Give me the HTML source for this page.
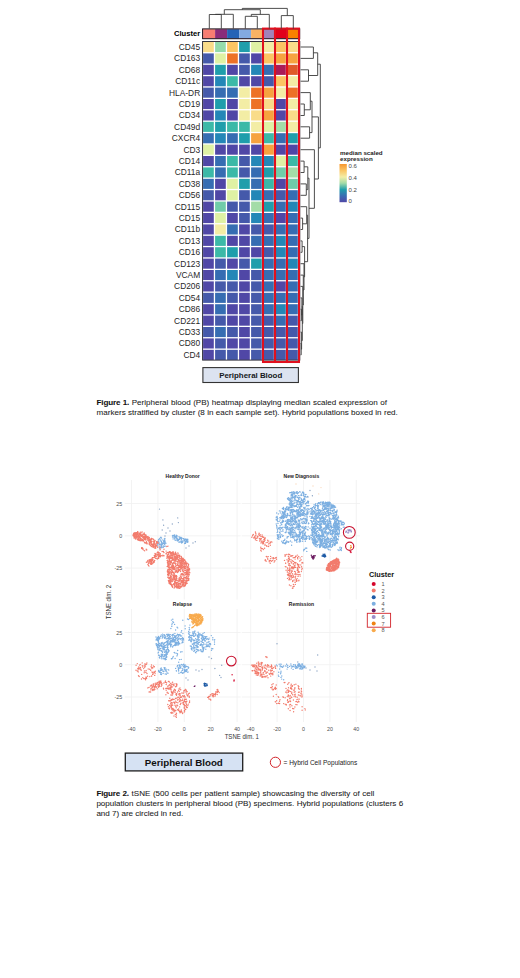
<!DOCTYPE html>
<html><head><meta charset="utf-8"><title>Figures</title><style>
html,body{margin:0;padding:0;background:#fff;width:520px;height:978px;overflow:hidden}
svg{position:absolute;left:0;top:0;display:block}
text{font-family:"Liberation Sans",sans-serif}
.rl{font-size:8.4px;fill:#282828}
.cl{font-size:7.6px;font-weight:bold;fill:#000}
.lt{font-size:6.2px;font-weight:bold;fill:#222}
.ll{font-size:6px;fill:#444}
.pb1{font-size:7.9px;font-weight:bold;fill:#141820}
.pb2{font-size:9.75px;font-weight:bold;fill:#111}
.cap{font-size:8.05px;fill:#222;stroke:#222;stroke-width:0.06px}
.capb{font-weight:bold;fill:#111;letter-spacing:-0.15px}
.ax{font-size:5.3px;fill:#4d4d4d}
.axt{font-size:6.6px;fill:#333}
.pt{font-size:5px;font-weight:bold;fill:#222}
.clt{font-size:7.3px;font-weight:bold;fill:#111}
.cln{font-size:5.6px;fill:#555}
.hyb{font-size:6.55px;fill:#222}
</style></head>
<body><svg width="520" height="978" viewBox="0 0 520 978">
<rect x="203.1" y="41.5" width="96.0" height="319.2" fill="#fff"/>
<rect x="203.1" y="42.0" width="10.7" height="10.1" fill="#f9dc89"/>
<rect x="215.1" y="42.0" width="10.7" height="10.1" fill="#93dbab"/>
<rect x="227.1" y="42.0" width="10.7" height="10.1" fill="#fbc563"/>
<rect x="239.1" y="42.0" width="10.7" height="10.1" fill="#1f9eab"/>
<rect x="251.1" y="42.0" width="10.7" height="10.1" fill="#dff1a4"/>
<rect x="263.1" y="42.0" width="10.7" height="10.1" fill="#f3eda5"/>
<rect x="275.1" y="42.0" width="10.7" height="10.1" fill="#fbc563"/>
<rect x="287.1" y="42.0" width="10.7" height="10.1" fill="#f9dc89"/>
<text x="200.2" y="50.0" text-anchor="end" class="rl">CD45</text>
<rect x="203.1" y="53.4" width="10.7" height="10.1" fill="#4559aa"/>
<rect x="215.1" y="53.4" width="10.7" height="10.1" fill="#dff1a4"/>
<rect x="227.1" y="53.4" width="10.7" height="10.1" fill="#ed7127"/>
<rect x="239.1" y="53.4" width="10.7" height="10.1" fill="#4559aa"/>
<rect x="251.1" y="53.4" width="10.7" height="10.1" fill="#5047a6"/>
<rect x="263.1" y="53.4" width="10.7" height="10.1" fill="#fbc563"/>
<rect x="275.1" y="53.4" width="10.7" height="10.1" fill="#f6a33f"/>
<rect x="287.1" y="53.4" width="10.7" height="10.1" fill="#f6a33f"/>
<text x="200.2" y="61.4" text-anchor="end" class="rl">CD163</text>
<rect x="203.1" y="64.8" width="10.7" height="10.1" fill="#5047a6"/>
<rect x="215.1" y="64.8" width="10.7" height="10.1" fill="#1f9eab"/>
<rect x="227.1" y="64.8" width="10.7" height="10.1" fill="#5047a6"/>
<rect x="239.1" y="64.8" width="10.7" height="10.1" fill="#4559aa"/>
<rect x="251.1" y="64.8" width="10.7" height="10.1" fill="#2487b7"/>
<rect x="263.1" y="64.8" width="10.7" height="10.1" fill="#366db2"/>
<rect x="275.1" y="64.8" width="10.7" height="10.1" fill="#a91b57"/>
<rect x="287.1" y="64.8" width="10.7" height="10.1" fill="#df5a2a"/>
<text x="200.2" y="72.8" text-anchor="end" class="rl">CD68</text>
<rect x="203.1" y="76.2" width="10.7" height="10.1" fill="#5047a6"/>
<rect x="215.1" y="76.2" width="10.7" height="10.1" fill="#2487b7"/>
<rect x="227.1" y="76.2" width="10.7" height="10.1" fill="#3cb9a7"/>
<rect x="239.1" y="76.2" width="10.7" height="10.1" fill="#5047a6"/>
<rect x="251.1" y="76.2" width="10.7" height="10.1" fill="#5047a6"/>
<rect x="263.1" y="76.2" width="10.7" height="10.1" fill="#4559aa"/>
<rect x="275.1" y="76.2" width="10.7" height="10.1" fill="#fbc563"/>
<rect x="287.1" y="76.2" width="10.7" height="10.1" fill="#f3eda5"/>
<text x="200.2" y="84.2" text-anchor="end" class="rl">CD11c</text>
<rect x="203.1" y="87.6" width="10.7" height="10.1" fill="#4559aa"/>
<rect x="215.1" y="87.6" width="10.7" height="10.1" fill="#366db2"/>
<rect x="227.1" y="87.6" width="10.7" height="10.1" fill="#366db2"/>
<rect x="239.1" y="87.6" width="10.7" height="10.1" fill="#f3eda5"/>
<rect x="251.1" y="87.6" width="10.7" height="10.1" fill="#ed7127"/>
<rect x="263.1" y="87.6" width="10.7" height="10.1" fill="#f6a33f"/>
<rect x="275.1" y="87.6" width="10.7" height="10.1" fill="#f3eda5"/>
<rect x="287.1" y="87.6" width="10.7" height="10.1" fill="#ed7127"/>
<text x="200.2" y="95.6" text-anchor="end" class="rl">HLA-DR</text>
<rect x="203.1" y="99.0" width="10.7" height="10.1" fill="#5047a6"/>
<rect x="215.1" y="99.0" width="10.7" height="10.1" fill="#1f9eab"/>
<rect x="227.1" y="99.0" width="10.7" height="10.1" fill="#5047a6"/>
<rect x="239.1" y="99.0" width="10.7" height="10.1" fill="#f3eda5"/>
<rect x="251.1" y="99.0" width="10.7" height="10.1" fill="#ed7127"/>
<rect x="263.1" y="99.0" width="10.7" height="10.1" fill="#f9dc89"/>
<rect x="275.1" y="99.0" width="10.7" height="10.1" fill="#5047a6"/>
<rect x="287.1" y="99.0" width="10.7" height="10.1" fill="#f3eda5"/>
<text x="200.2" y="107.0" text-anchor="end" class="rl">CD19</text>
<rect x="203.1" y="110.4" width="10.7" height="10.1" fill="#5047a6"/>
<rect x="215.1" y="110.4" width="10.7" height="10.1" fill="#2487b7"/>
<rect x="227.1" y="110.4" width="10.7" height="10.1" fill="#5047a6"/>
<rect x="239.1" y="110.4" width="10.7" height="10.1" fill="#f3eda5"/>
<rect x="251.1" y="110.4" width="10.7" height="10.1" fill="#f9dc89"/>
<rect x="263.1" y="110.4" width="10.7" height="10.1" fill="#f6a33f"/>
<rect x="275.1" y="110.4" width="10.7" height="10.1" fill="#5047a6"/>
<rect x="287.1" y="110.4" width="10.7" height="10.1" fill="#f9dc89"/>
<text x="200.2" y="118.4" text-anchor="end" class="rl">CD34</text>
<rect x="203.1" y="121.8" width="10.7" height="10.1" fill="#3cb9a7"/>
<rect x="215.1" y="121.8" width="10.7" height="10.1" fill="#1f9eab"/>
<rect x="227.1" y="121.8" width="10.7" height="10.1" fill="#3cb9a7"/>
<rect x="239.1" y="121.8" width="10.7" height="10.1" fill="#3cb9a7"/>
<rect x="251.1" y="121.8" width="10.7" height="10.1" fill="#f3eda5"/>
<rect x="263.1" y="121.8" width="10.7" height="10.1" fill="#dff1a4"/>
<rect x="275.1" y="121.8" width="10.7" height="10.1" fill="#a3dca8"/>
<rect x="287.1" y="121.8" width="10.7" height="10.1" fill="#f3eda5"/>
<text x="200.2" y="129.8" text-anchor="end" class="rl">CD49d</text>
<rect x="203.1" y="133.2" width="10.7" height="10.1" fill="#366db2"/>
<rect x="215.1" y="133.2" width="10.7" height="10.1" fill="#2487b7"/>
<rect x="227.1" y="133.2" width="10.7" height="10.1" fill="#366db2"/>
<rect x="239.1" y="133.2" width="10.7" height="10.1" fill="#1f9eab"/>
<rect x="251.1" y="133.2" width="10.7" height="10.1" fill="#f6a33f"/>
<rect x="263.1" y="133.2" width="10.7" height="10.1" fill="#3cb9a7"/>
<rect x="275.1" y="133.2" width="10.7" height="10.1" fill="#366db2"/>
<rect x="287.1" y="133.2" width="10.7" height="10.1" fill="#1f9eab"/>
<text x="200.2" y="141.2" text-anchor="end" class="rl">CXCR4</text>
<rect x="203.1" y="144.6" width="10.7" height="10.1" fill="#dff1a4"/>
<rect x="215.1" y="144.6" width="10.7" height="10.1" fill="#5047a6"/>
<rect x="227.1" y="144.6" width="10.7" height="10.1" fill="#5047a6"/>
<rect x="239.1" y="144.6" width="10.7" height="10.1" fill="#5047a6"/>
<rect x="251.1" y="144.6" width="10.7" height="10.1" fill="#5047a6"/>
<rect x="263.1" y="144.6" width="10.7" height="10.1" fill="#f6a33f"/>
<rect x="275.1" y="144.6" width="10.7" height="10.1" fill="#5047a6"/>
<rect x="287.1" y="144.6" width="10.7" height="10.1" fill="#5047a6"/>
<text x="200.2" y="152.6" text-anchor="end" class="rl">CD3</text>
<rect x="203.1" y="156.0" width="10.7" height="10.1" fill="#5047a6"/>
<rect x="215.1" y="156.0" width="10.7" height="10.1" fill="#366db2"/>
<rect x="227.1" y="156.0" width="10.7" height="10.1" fill="#3cb9a7"/>
<rect x="239.1" y="156.0" width="10.7" height="10.1" fill="#4559aa"/>
<rect x="251.1" y="156.0" width="10.7" height="10.1" fill="#2487b7"/>
<rect x="263.1" y="156.0" width="10.7" height="10.1" fill="#2487b7"/>
<rect x="275.1" y="156.0" width="10.7" height="10.1" fill="#dff1a4"/>
<rect x="287.1" y="156.0" width="10.7" height="10.1" fill="#3cb9a7"/>
<text x="200.2" y="164.0" text-anchor="end" class="rl">CD14</text>
<rect x="203.1" y="167.4" width="10.7" height="10.1" fill="#3cb9a7"/>
<rect x="215.1" y="167.4" width="10.7" height="10.1" fill="#366db2"/>
<rect x="227.1" y="167.4" width="10.7" height="10.1" fill="#3cb9a7"/>
<rect x="239.1" y="167.4" width="10.7" height="10.1" fill="#4559aa"/>
<rect x="251.1" y="167.4" width="10.7" height="10.1" fill="#366db2"/>
<rect x="263.1" y="167.4" width="10.7" height="10.1" fill="#1f9eab"/>
<rect x="275.1" y="167.4" width="10.7" height="10.1" fill="#70cca9"/>
<rect x="287.1" y="167.4" width="10.7" height="10.1" fill="#a3dca8"/>
<text x="200.2" y="175.4" text-anchor="end" class="rl">CD11a</text>
<rect x="203.1" y="178.8" width="10.7" height="10.1" fill="#366db2"/>
<rect x="215.1" y="178.8" width="10.7" height="10.1" fill="#5047a6"/>
<rect x="227.1" y="178.8" width="10.7" height="10.1" fill="#dff1a4"/>
<rect x="239.1" y="178.8" width="10.7" height="10.1" fill="#1f9eab"/>
<rect x="251.1" y="178.8" width="10.7" height="10.1" fill="#366db2"/>
<rect x="263.1" y="178.8" width="10.7" height="10.1" fill="#3cb9a7"/>
<rect x="275.1" y="178.8" width="10.7" height="10.1" fill="#5047a6"/>
<rect x="287.1" y="178.8" width="10.7" height="10.1" fill="#70cca9"/>
<text x="200.2" y="186.8" text-anchor="end" class="rl">CD38</text>
<rect x="203.1" y="190.2" width="10.7" height="10.1" fill="#4559aa"/>
<rect x="215.1" y="190.2" width="10.7" height="10.1" fill="#5047a6"/>
<rect x="227.1" y="190.2" width="10.7" height="10.1" fill="#dff1a4"/>
<rect x="239.1" y="190.2" width="10.7" height="10.1" fill="#4559aa"/>
<rect x="251.1" y="190.2" width="10.7" height="10.1" fill="#2487b7"/>
<rect x="263.1" y="190.2" width="10.7" height="10.1" fill="#366db2"/>
<rect x="275.1" y="190.2" width="10.7" height="10.1" fill="#4559aa"/>
<rect x="287.1" y="190.2" width="10.7" height="10.1" fill="#366db2"/>
<text x="200.2" y="198.2" text-anchor="end" class="rl">CD56</text>
<rect x="203.1" y="201.6" width="10.7" height="10.1" fill="#5047a6"/>
<rect x="215.1" y="201.6" width="10.7" height="10.1" fill="#70cca9"/>
<rect x="227.1" y="201.6" width="10.7" height="10.1" fill="#4559aa"/>
<rect x="239.1" y="201.6" width="10.7" height="10.1" fill="#4559aa"/>
<rect x="251.1" y="201.6" width="10.7" height="10.1" fill="#a3dca8"/>
<rect x="263.1" y="201.6" width="10.7" height="10.1" fill="#1f9eab"/>
<rect x="275.1" y="201.6" width="10.7" height="10.1" fill="#366db2"/>
<rect x="287.1" y="201.6" width="10.7" height="10.1" fill="#2487b7"/>
<text x="200.2" y="209.6" text-anchor="end" class="rl">CD115</text>
<rect x="203.1" y="213.0" width="10.7" height="10.1" fill="#5047a6"/>
<rect x="215.1" y="213.0" width="10.7" height="10.1" fill="#dff1a4"/>
<rect x="227.1" y="213.0" width="10.7" height="10.1" fill="#5047a6"/>
<rect x="239.1" y="213.0" width="10.7" height="10.1" fill="#4559aa"/>
<rect x="251.1" y="213.0" width="10.7" height="10.1" fill="#2487b7"/>
<rect x="263.1" y="213.0" width="10.7" height="10.1" fill="#366db2"/>
<rect x="275.1" y="213.0" width="10.7" height="10.1" fill="#5047a6"/>
<rect x="287.1" y="213.0" width="10.7" height="10.1" fill="#366db2"/>
<text x="200.2" y="221.0" text-anchor="end" class="rl">CD15</text>
<rect x="203.1" y="224.4" width="10.7" height="10.1" fill="#5047a6"/>
<rect x="215.1" y="224.4" width="10.7" height="10.1" fill="#f3eda5"/>
<rect x="227.1" y="224.4" width="10.7" height="10.1" fill="#366db2"/>
<rect x="239.1" y="224.4" width="10.7" height="10.1" fill="#5047a6"/>
<rect x="251.1" y="224.4" width="10.7" height="10.1" fill="#4559aa"/>
<rect x="263.1" y="224.4" width="10.7" height="10.1" fill="#4559aa"/>
<rect x="275.1" y="224.4" width="10.7" height="10.1" fill="#366db2"/>
<rect x="287.1" y="224.4" width="10.7" height="10.1" fill="#366db2"/>
<text x="200.2" y="232.4" text-anchor="end" class="rl">CD11b</text>
<rect x="203.1" y="235.8" width="10.7" height="10.1" fill="#5047a6"/>
<rect x="215.1" y="235.8" width="10.7" height="10.1" fill="#3cb9a7"/>
<rect x="227.1" y="235.8" width="10.7" height="10.1" fill="#5047a6"/>
<rect x="239.1" y="235.8" width="10.7" height="10.1" fill="#5047a6"/>
<rect x="251.1" y="235.8" width="10.7" height="10.1" fill="#366db2"/>
<rect x="263.1" y="235.8" width="10.7" height="10.1" fill="#366db2"/>
<rect x="275.1" y="235.8" width="10.7" height="10.1" fill="#2487b7"/>
<rect x="287.1" y="235.8" width="10.7" height="10.1" fill="#366db2"/>
<text x="200.2" y="243.8" text-anchor="end" class="rl">CD13</text>
<rect x="203.1" y="247.2" width="10.7" height="10.1" fill="#5047a6"/>
<rect x="215.1" y="247.2" width="10.7" height="10.1" fill="#3cb9a7"/>
<rect x="227.1" y="247.2" width="10.7" height="10.1" fill="#1f9eab"/>
<rect x="239.1" y="247.2" width="10.7" height="10.1" fill="#5047a6"/>
<rect x="251.1" y="247.2" width="10.7" height="10.1" fill="#5047a6"/>
<rect x="263.1" y="247.2" width="10.7" height="10.1" fill="#4559aa"/>
<rect x="275.1" y="247.2" width="10.7" height="10.1" fill="#2487b7"/>
<rect x="287.1" y="247.2" width="10.7" height="10.1" fill="#366db2"/>
<text x="200.2" y="255.2" text-anchor="end" class="rl">CD16</text>
<rect x="203.1" y="258.6" width="10.7" height="10.1" fill="#5047a6"/>
<rect x="215.1" y="258.6" width="10.7" height="10.1" fill="#4559aa"/>
<rect x="227.1" y="258.6" width="10.7" height="10.1" fill="#5047a6"/>
<rect x="239.1" y="258.6" width="10.7" height="10.1" fill="#4559aa"/>
<rect x="251.1" y="258.6" width="10.7" height="10.1" fill="#1f9eab"/>
<rect x="263.1" y="258.6" width="10.7" height="10.1" fill="#366db2"/>
<rect x="275.1" y="258.6" width="10.7" height="10.1" fill="#366db2"/>
<rect x="287.1" y="258.6" width="10.7" height="10.1" fill="#2487b7"/>
<text x="200.2" y="266.6" text-anchor="end" class="rl">CD123</text>
<rect x="203.1" y="270.0" width="10.7" height="10.1" fill="#5047a6"/>
<rect x="215.1" y="270.0" width="10.7" height="10.1" fill="#366db2"/>
<rect x="227.1" y="270.0" width="10.7" height="10.1" fill="#2487b7"/>
<rect x="239.1" y="270.0" width="10.7" height="10.1" fill="#5047a6"/>
<rect x="251.1" y="270.0" width="10.7" height="10.1" fill="#4559aa"/>
<rect x="263.1" y="270.0" width="10.7" height="10.1" fill="#366db2"/>
<rect x="275.1" y="270.0" width="10.7" height="10.1" fill="#366db2"/>
<rect x="287.1" y="270.0" width="10.7" height="10.1" fill="#366db2"/>
<text x="200.2" y="278.0" text-anchor="end" class="rl">VCAM</text>
<rect x="203.1" y="281.4" width="10.7" height="10.1" fill="#5047a6"/>
<rect x="215.1" y="281.4" width="10.7" height="10.1" fill="#4559aa"/>
<rect x="227.1" y="281.4" width="10.7" height="10.1" fill="#4559aa"/>
<rect x="239.1" y="281.4" width="10.7" height="10.1" fill="#5047a6"/>
<rect x="251.1" y="281.4" width="10.7" height="10.1" fill="#4559aa"/>
<rect x="263.1" y="281.4" width="10.7" height="10.1" fill="#366db2"/>
<rect x="275.1" y="281.4" width="10.7" height="10.1" fill="#5047a6"/>
<rect x="287.1" y="281.4" width="10.7" height="10.1" fill="#366db2"/>
<text x="200.2" y="289.4" text-anchor="end" class="rl">CD206</text>
<rect x="203.1" y="292.8" width="10.7" height="10.1" fill="#4559aa"/>
<rect x="215.1" y="292.8" width="10.7" height="10.1" fill="#366db2"/>
<rect x="227.1" y="292.8" width="10.7" height="10.1" fill="#4559aa"/>
<rect x="239.1" y="292.8" width="10.7" height="10.1" fill="#5047a6"/>
<rect x="251.1" y="292.8" width="10.7" height="10.1" fill="#4559aa"/>
<rect x="263.1" y="292.8" width="10.7" height="10.1" fill="#366db2"/>
<rect x="275.1" y="292.8" width="10.7" height="10.1" fill="#366db2"/>
<rect x="287.1" y="292.8" width="10.7" height="10.1" fill="#366db2"/>
<text x="200.2" y="300.8" text-anchor="end" class="rl">CD54</text>
<rect x="203.1" y="304.2" width="10.7" height="10.1" fill="#5047a6"/>
<rect x="215.1" y="304.2" width="10.7" height="10.1" fill="#366db2"/>
<rect x="227.1" y="304.2" width="10.7" height="10.1" fill="#5047a6"/>
<rect x="239.1" y="304.2" width="10.7" height="10.1" fill="#5047a6"/>
<rect x="251.1" y="304.2" width="10.7" height="10.1" fill="#4559aa"/>
<rect x="263.1" y="304.2" width="10.7" height="10.1" fill="#366db2"/>
<rect x="275.1" y="304.2" width="10.7" height="10.1" fill="#2487b7"/>
<rect x="287.1" y="304.2" width="10.7" height="10.1" fill="#366db2"/>
<text x="200.2" y="312.2" text-anchor="end" class="rl">CD86</text>
<rect x="203.1" y="315.6" width="10.7" height="10.1" fill="#5047a6"/>
<rect x="215.1" y="315.6" width="10.7" height="10.1" fill="#4559aa"/>
<rect x="227.1" y="315.6" width="10.7" height="10.1" fill="#5047a6"/>
<rect x="239.1" y="315.6" width="10.7" height="10.1" fill="#5047a6"/>
<rect x="251.1" y="315.6" width="10.7" height="10.1" fill="#4559aa"/>
<rect x="263.1" y="315.6" width="10.7" height="10.1" fill="#4559aa"/>
<rect x="275.1" y="315.6" width="10.7" height="10.1" fill="#366db2"/>
<rect x="287.1" y="315.6" width="10.7" height="10.1" fill="#4559aa"/>
<text x="200.2" y="323.6" text-anchor="end" class="rl">CD221</text>
<rect x="203.1" y="327.0" width="10.7" height="10.1" fill="#4559aa"/>
<rect x="215.1" y="327.0" width="10.7" height="10.1" fill="#366db2"/>
<rect x="227.1" y="327.0" width="10.7" height="10.1" fill="#4559aa"/>
<rect x="239.1" y="327.0" width="10.7" height="10.1" fill="#5047a6"/>
<rect x="251.1" y="327.0" width="10.7" height="10.1" fill="#4559aa"/>
<rect x="263.1" y="327.0" width="10.7" height="10.1" fill="#4559aa"/>
<rect x="275.1" y="327.0" width="10.7" height="10.1" fill="#4559aa"/>
<rect x="287.1" y="327.0" width="10.7" height="10.1" fill="#4559aa"/>
<text x="200.2" y="335.0" text-anchor="end" class="rl">CD33</text>
<rect x="203.1" y="338.4" width="10.7" height="10.1" fill="#5047a6"/>
<rect x="215.1" y="338.4" width="10.7" height="10.1" fill="#4559aa"/>
<rect x="227.1" y="338.4" width="10.7" height="10.1" fill="#5047a6"/>
<rect x="239.1" y="338.4" width="10.7" height="10.1" fill="#5047a6"/>
<rect x="251.1" y="338.4" width="10.7" height="10.1" fill="#4559aa"/>
<rect x="263.1" y="338.4" width="10.7" height="10.1" fill="#4559aa"/>
<rect x="275.1" y="338.4" width="10.7" height="10.1" fill="#4559aa"/>
<rect x="287.1" y="338.4" width="10.7" height="10.1" fill="#4559aa"/>
<text x="200.2" y="346.4" text-anchor="end" class="rl">CD80</text>
<rect x="203.1" y="349.8" width="10.7" height="10.1" fill="#5047a6"/>
<rect x="215.1" y="349.8" width="10.7" height="10.1" fill="#4559aa"/>
<rect x="227.1" y="349.8" width="10.7" height="10.1" fill="#4559aa"/>
<rect x="239.1" y="349.8" width="10.7" height="10.1" fill="#5047a6"/>
<rect x="251.1" y="349.8" width="10.7" height="10.1" fill="#4559aa"/>
<rect x="263.1" y="349.8" width="10.7" height="10.1" fill="#4559aa"/>
<rect x="275.1" y="349.8" width="10.7" height="10.1" fill="#4559aa"/>
<rect x="287.1" y="349.8" width="10.7" height="10.1" fill="#4559aa"/>
<text x="200.2" y="357.8" text-anchor="end" class="rl">CD4</text>
<rect x="202.6" y="41.5" width="97.2" height="318.6" fill="none" stroke="#1e1e2a" stroke-width="0.9"/>
<rect x="203.1" y="29.2" width="12.0" height="9.2" fill="#f77d72"/>
<rect x="215.1" y="29.2" width="12.0" height="9.2" fill="#8a2b7a"/>
<rect x="227.1" y="29.2" width="12.0" height="9.2" fill="#2563b6"/>
<rect x="239.1" y="29.2" width="12.0" height="9.2" fill="#83aae0"/>
<rect x="251.1" y="29.2" width="12.0" height="9.2" fill="#f9b263"/>
<rect x="263.1" y="29.2" width="12.0" height="9.2" fill="#a283b9"/>
<rect x="275.1" y="29.2" width="12.0" height="9.2" fill="#e2001b"/>
<rect x="287.1" y="29.2" width="12.0" height="9.2" fill="#f98200"/>
<rect x="202.6" y="28.9" width="97.1" height="9.8" fill="none" stroke="#1a0a14" stroke-width="1"/>
<text x="200.2" y="35.9" text-anchor="end" class="cl">Cluster</text>
<rect x="263.0" y="28.6" width="12.0" height="333.4" fill="none" stroke="#e0101e" stroke-width="2.05"/>
<rect x="275.0" y="28.6" width="12.0" height="333.4" fill="none" stroke="#e0101e" stroke-width="2.05"/>
<rect x="287.0" y="28.6" width="12.0" height="333.4" fill="none" stroke="#e0101e" stroke-width="2.05"/>
<path d="M209.3 28.6V14.5H221.3V28.6 M215.3 14.5V14.3H233.3V28.6 M245.3 28.6V16.3H257.3V28.6 M251.3 16.3V14.4H269.3V28.6 M224.3 14.3V9.7H260.3V14.4 M281.3 28.6V15.6H293.3V28.6 M242.3 9.7V8.4H287.3V15.6 M300.6 47.0H313.4V58.4H300.6 M300.6 69.8H308.5V81.2H300.6 M313.4 52.8H317.7V75.5H308.5 M300.6 104.0H304.3V115.5H300.6 M300.6 92.6H310.3V109.8H304.3 M300.6 126.8H309.6V138.2H300.6 M310.3 101.2H312.0V132.6H309.6 M300.6 161.1H304.1V172.5H300.6 M300.6 183.9H306.3V195.3H300.6 M304.1 166.8H307.8V189.6H306.3 M300.6 218.1H302.6V229.5H300.6 M300.6 206.7H306.7V223.8H302.6 M300.6 240.9H302.1V252.3H300.6 M300.6 343.5H301.2V354.9H300.6 M300.6 332.1H301.6V349.2H301.2 M300.6 309.2H301.4V320.7H300.6 M300.6 297.9H301.9V315.0H301.4 M301.9 306.4H302.3V340.6H301.6 M300.6 286.4H302.8V323.5H302.3 M300.6 275.1H303.3V305.0H302.8 M300.6 263.7H304.0V290.0H303.3 M302.1 246.6H304.6V276.8H304.0 M306.7 215.2H307.6V261.7H304.6 M307.8 178.2H309.0V238.4H307.6 M300.6 149.7H314.4V208.3H309.0 M312.0 116.9H318.4V179.0H314.4 M317.7 64.2H320.3V147.9H318.4" fill="none" stroke="#3a3a3a" stroke-width="0.9"/>
<defs><linearGradient id="lg" x1="0" y1="1" x2="0" y2="0"><stop offset="0" stop-color="#5047a6"/><stop offset="0.16" stop-color="#3a6bb2"/><stop offset="0.33" stop-color="#1f9eab"/><stop offset="0.5" stop-color="#a3dca8"/><stop offset="0.66" stop-color="#f3eda5"/><stop offset="0.83" stop-color="#fbc563"/><stop offset="1" stop-color="#f6962e"/></linearGradient></defs>
<rect x="339.5" y="164" width="7.3" height="38.2" fill="url(#lg)"/>
<text x="340" y="155.2" class="lt">median scaled</text>
<text x="340" y="161.0" class="lt">expression</text>
<text x="348.6" y="167.9" class="ll">0.6</text>
<text x="348.6" y="179.8" class="ll">0.4</text>
<text x="348.6" y="191.5" class="ll">0.2</text>
<text x="348.6" y="202.7" class="ll">0</text>
<rect x="202.9" y="367.6" width="95.5" height="14.9" fill="#dce3f0" stroke="#333" stroke-width="1.1"/>
<text x="250.7" y="378.4" text-anchor="middle" class="pb1">Peripheral Blood</text>
<text x="96.6" y="405.2" class="cap" word-spacing="0.33"><tspan class="capb">Figure 1.</tspan> Peripheral blood (PB) heatmap displaying median scaled expression of</text>
<text x="96.6" y="415.4" class="cap" word-spacing="0.12">markers stratified by cluster (8 in each sample set). Hybrid populations boxed in red.</text>
<path d="M131.5 480.0V599.5 M157.9 480.0V599.5 M184.3 480.0V599.5 M210.7 480.0V599.5 M237.1 480.0V599.5 M124.8 568.1H240.6 M124.8 535.8H240.6 M124.8 503.5H240.6 M131.5 609.0V722.0 M157.9 609.0V722.0 M184.3 609.0V722.0 M210.7 609.0V722.0 M237.1 609.0V722.0 M124.8 697.0H240.6 M124.8 664.7H240.6 M124.8 632.5H240.6 M250.7 480.0V599.5 M277.1 480.0V599.5 M303.5 480.0V599.5 M329.9 480.0V599.5 M356.3 480.0V599.5 M241.8 568.1H360.0 M241.8 535.8H360.0 M241.8 503.5H360.0 M250.7 609.0V722.0 M277.1 609.0V722.0 M303.5 609.0V722.0 M329.9 609.0V722.0 M356.3 609.0V722.0 M241.8 697.0H360.0 M241.8 664.7H360.0 M241.8 632.5H360.0" stroke="#f0f0f0" stroke-width="0.8" fill="none"/>
<text x="122.2" y="505.5" text-anchor="end" class="ax">25</text>
<text x="122.2" y="537.8" text-anchor="end" class="ax">0</text>
<text x="122.2" y="570.1" text-anchor="end" class="ax">-25</text>
<text x="122.2" y="634.5" text-anchor="end" class="ax">25</text>
<text x="122.2" y="666.7" text-anchor="end" class="ax">0</text>
<text x="122.2" y="699.0" text-anchor="end" class="ax">-25</text>
<text x="131.5" y="731.0" text-anchor="middle" class="ax">-40</text>
<text x="157.9" y="731.0" text-anchor="middle" class="ax">-20</text>
<text x="184.3" y="731.0" text-anchor="middle" class="ax">0</text>
<text x="210.7" y="731.0" text-anchor="middle" class="ax">20</text>
<text x="237.1" y="731.0" text-anchor="middle" class="ax">40</text>
<text x="250.7" y="731.0" text-anchor="middle" class="ax">-40</text>
<text x="277.1" y="731.0" text-anchor="middle" class="ax">-20</text>
<text x="303.5" y="731.0" text-anchor="middle" class="ax">0</text>
<text x="329.9" y="731.0" text-anchor="middle" class="ax">20</text>
<text x="356.3" y="731.0" text-anchor="middle" class="ax">40</text>
<text x="224.7" y="739.0" class="axt" textLength="34.2" lengthAdjust="spacingAndGlyphs">TSNE dim. 1</text>
<text transform="translate(111.4 619.3) rotate(-90)" class="axt" textLength="34.4" lengthAdjust="spacingAndGlyphs">TSNE dim. 2</text>
<text x="182.7" y="477.5" text-anchor="middle" class="pt">Healthy Donor</text>
<text x="301.4" y="477.5" text-anchor="middle" class="pt">New Diagnosis</text>
<text x="182.4" y="606.3" text-anchor="middle" class="pt">Relapse</text>
<text x="301.5" y="606.3" text-anchor="middle" class="pt">Remission</text>
<path d="M137.4 532.9h0M141.8 532.2h0M140.2 535.0h0M133.8 536.3h0M133.5 535.6h0M138.7 539.4h0M134.7 533.6h0M141.5 540.5h0M140.8 535.3h0M144.6 534.3h0M134.9 532.6h0M137.2 539.3h0M135.4 537.0h0M141.6 535.0h0M140.4 532.1h0M133.8 533.5h0M142.2 535.6h0M137.2 537.1h0M139.1 534.3h0M143.7 538.1h0M136.3 537.0h0M140.1 539.8h0M142.8 534.2h0M138.6 538.7h0M135.1 536.1h0M143.3 536.9h0M144.8 534.5h0M142.4 537.1h0M140.8 535.8h0M139.4 537.8h0M144.1 534.2h0M138.2 537.9h0M133.3 535.9h0M135.3 532.6h0M134.7 533.9h0M138.3 539.8h0M134.1 535.8h0M140.4 539.9h0M144.1 539.7h0M136.8 535.4h0M137.8 539.9h0M135.4 533.7h0M136.2 536.1h0M141.0 534.0h0M133.1 535.5h0M138.0 536.9h0M145.9 538.1h0M140.0 537.4h0M142.1 532.0h0M145.1 538.9h0M144.8 539.1h0M138.3 535.3h0M134.4 537.5h0M135.8 533.0h0M137.6 532.0h0M134.4 535.0h0M136.4 534.8h0M137.9 532.7h0M139.3 536.1h0M137.6 534.0h0M144.2 533.0h0M140.1 532.9h0M140.1 540.8h0M144.7 538.1h0M136.5 535.0h0M135.3 538.8h0M140.2 538.9h0M137.5 533.6h0M144.5 539.2h0M144.0 538.5h0M136.1 536.4h0M137.8 531.8h0M133.4 534.2h0M136.5 538.1h0M145.9 535.7h0M145.9 535.0h0M136.0 533.7h0M135.7 533.4h0M141.4 540.1h0M144.3 536.1h0M141.8 539.1h0M134.1 537.8h0M145.3 538.9h0M143.1 536.0h0M135.4 539.0h0M137.5 539.1h0M146.1 535.3h0M134.7 532.9h0M145.2 539.2h0M137.7 536.7h0M146.1 537.7h0M140.1 540.4h0M138.9 539.8h0M144.2 533.5h0M136.4 534.3h0M136.2 537.1h0M136.5 535.5h0M137.8 535.9h0M140.9 540.1h0M138.7 540.2h0M139.8 536.6h0M138.9 533.2h0M135.3 536.0h0M142.8 536.8h0M137.4 536.4h0M140.5 539.0h0M134.4 536.8h0M136.4 534.1h0M143.4 536.3h0M140.6 538.7h0M145.3 535.7h0M141.3 536.3h0M139.9 538.1h0M139.1 536.6h0M139.5 540.4h0M142.4 539.8h0M140.6 540.5h0M134.6 535.7h0M134.0 533.8h0M134.0 537.9h0M135.1 538.3h0M138.4 536.1h0M135.2 535.6h0M140.0 534.7h0M135.6 534.5h0M140.5 535.7h0M133.2 534.6h0M141.4 536.4h0M134.4 534.0h0M136.7 532.7h0M138.7 540.2h0M144.1 534.0h0M140.7 538.2h0M142.3 535.5h0M141.6 539.1h0M139.1 534.7h0M140.5 540.3h0M136.6 532.7h0M140.1 533.8h0M134.5 533.0h0M133.7 533.4h0M137.2 534.4h0M143.3 534.3h0M139.8 533.2h0M137.7 531.7h0M142.9 536.7h0M135.6 536.0h0M157.9 542.4h0M155.1 543.7h0M149.0 543.9h0M148.7 541.0h0M151.3 546.4h0M146.8 542.8h0M152.8 544.2h0M149.4 540.0h0M145.1 535.9h0M143.2 540.1h0M147.9 537.7h0M143.0 540.9h0M155.0 545.7h0M148.0 538.4h0M147.4 539.9h0M145.5 538.8h0M145.2 543.1h0M156.9 545.6h0M144.9 542.9h0M148.0 539.4h0M143.4 537.2h0M149.9 541.6h0M145.9 539.5h0M143.9 536.5h0M144.6 538.0h0M145.2 535.1h0M148.3 538.5h0M151.4 542.6h0M153.3 544.7h0M152.1 545.9h0M149.2 539.8h0M158.5 543.1h0M153.0 544.4h0M142.5 540.6h0M155.5 545.5h0M152.6 545.6h0M144.9 539.2h0M149.2 544.0h0M153.5 546.2h0M150.1 545.0h0M152.2 544.4h0M147.9 536.6h0M145.4 538.1h0M143.4 541.0h0M150.7 543.0h0M151.5 543.9h0M151.8 538.4h0M153.7 545.6h0M150.2 542.0h0M154.1 540.1h0M154.5 541.9h0M144.9 537.0h0M154.6 541.5h0M152.1 546.7h0M150.6 540.9h0M149.3 542.8h0M153.7 544.5h0M153.8 540.0h0M146.0 537.5h0M154.5 542.3h0M152.9 539.0h0M144.7 536.9h0M152.1 544.3h0M153.5 541.7h0M150.6 541.6h0M151.1 539.0h0M157.0 542.7h0M155.7 548.2h0M143.4 537.9h0M153.3 547.3h0M150.3 539.8h0M144.5 542.5h0M145.8 540.1h0M145.0 539.2h0M158.1 542.7h0M154.9 544.2h0M155.2 546.0h0M145.0 542.4h0M151.7 538.5h0M143.1 538.0h0M150.2 540.1h0M145.6 538.0h0M146.4 542.6h0M142.2 539.7h0M156.5 541.8h0M155.7 546.4h0M156.8 543.4h0M148.8 540.1h0M157.2 546.1h0M148.5 540.2h0M148.5 537.1h0M143.3 541.0h0M145.6 543.0h0M147.4 538.3h0M151.5 539.8h0M146.8 543.8h0M154.7 546.7h0M150.7 545.5h0M156.5 545.4h0M155.0 540.4h0M153.8 543.2h0M153.4 544.6h0M148.7 537.1h0M157.7 542.5h0M150.4 540.5h0M146.5 541.8h0M158.0 543.7h0M153.2 541.6h0M151.4 541.5h0M146.6 537.0h0M144.6 542.3h0M151.2 539.9h0M154.4 548.1h0M150.8 539.0h0M147.2 536.7h0M149.4 537.8h0M147.3 538.2h0M149.9 544.9h0M154.2 543.0h0M148.9 541.3h0M149.0 539.7h0M144.7 537.0h0M158.3 542.8h0M149.9 542.6h0M156.5 542.6h0M147.8 538.4h0M149.0 540.6h0M155.6 547.5h0M157.3 541.4h0M142.7 539.6h0M156.1 544.5h0M153.2 539.1h0M147.2 543.8h0M153.7 546.6h0M158.0 543.6h0M145.8 536.5h0M149.9 543.1h0M155.9 546.5h0M151.5 544.6h0M149.5 541.8h0M142.6 540.2h0M144.9 542.5h0M153.0 541.5h0M145.7 537.3h0M151.5 544.1h0M146.1 536.0h0M150.3 542.5h0M149.6 539.1h0M153.4 539.2h0M147.5 540.0h0M146.7 549.8h0M146.2 549.2h0M141.6 548.4h0M146.7 550.0h0M142.2 547.6h0M143.5 549.9h0M142.9 548.4h0M144.7 550.7h0M141.6 547.6h0M142.4 549.0h0M155.1 555.5h0M158.6 556.5h0M152.9 557.6h0M159.2 552.8h0M157.0 554.1h0M151.3 563.1h0M152.9 563.0h0M152.7 557.6h0M150.1 561.6h0M157.6 558.8h0M149.0 562.4h0M152.0 564.0h0M147.7 561.0h0M160.4 555.9h0M158.7 558.3h0M158.8 553.3h0M151.5 564.2h0M155.3 554.1h0M155.6 556.5h0M151.7 559.6h0M147.9 560.5h0M150.5 560.7h0M158.4 552.2h0M158.8 552.4h0M153.2 561.8h0M157.8 554.9h0M153.8 562.0h0M149.5 561.8h0M157.3 552.4h0M153.9 561.1h0M155.6 553.9h0M146.4 562.3h0M158.4 553.1h0M158.5 557.7h0M151.0 559.7h0M160.2 554.2h0M151.6 562.4h0M150.7 560.0h0M148.5 565.5h0M159.7 554.7h0M157.8 551.9h0M150.4 561.8h0M161.4 555.6h0M151.5 559.1h0M153.0 559.6h0M158.2 552.7h0M158.6 556.4h0M159.0 556.3h0M154.6 556.9h0M151.1 560.3h0M156.0 553.9h0M150.9 563.3h0M149.1 559.9h0M148.1 564.3h0M153.4 562.8h0M160.6 556.5h0M149.4 559.8h0M148.7 563.4h0M156.4 556.3h0M150.2 561.5h0M156.1 558.2h0M158.3 557.5h0M154.6 555.4h0M157.5 554.1h0M154.3 557.6h0M155.9 554.9h0M149.7 560.7h0M150.9 564.4h0M154.3 557.2h0M154.4 562.1h0M153.0 557.7h0M158.4 556.0h0M154.7 560.5h0M159.8 556.7h0M147.9 561.9h0M160.3 553.8h0M158.9 553.5h0M158.4 554.5h0M151.8 562.7h0M158.2 552.2h0M155.6 558.3h0M149.8 561.5h0M148.2 561.7h0M151.1 562.0h0M154.8 555.9h0M155.0 555.5h0M150.4 559.7h0M157.9 555.7h0M146.9 562.1h0M152.7 560.2h0M154.2 555.6h0M150.3 563.5h0M152.0 559.0h0M153.1 562.9h0M151.7 561.2h0M151.8 560.1h0M160.4 556.8h0M151.1 559.1h0M155.7 555.1h0M149.0 566.1h0M154.1 561.0h0M154.1 561.5h0M152.2 557.9h0M147.9 564.5h0M157.2 559.0h0M168.6 574.3h0M175.2 569.9h0M169.9 561.6h0M178.7 585.7h0M169.1 569.4h0M171.1 555.7h0M177.8 553.0h0M188.3 565.5h0M187.7 574.3h0M176.0 582.7h0M171.6 566.0h0M178.7 565.4h0M169.4 560.3h0M183.5 584.6h0M167.5 572.1h0M180.6 571.6h0M181.2 562.5h0M176.5 575.7h0M177.0 567.4h0M178.0 559.8h0M184.4 580.2h0M177.3 557.7h0M177.6 555.0h0M169.5 567.1h0M168.7 567.6h0M183.7 580.2h0M178.3 565.2h0M183.7 581.6h0M178.1 586.9h0M185.0 585.9h0M168.0 564.2h0M178.3 585.5h0M171.4 560.9h0M178.4 563.0h0M167.4 557.8h0M182.5 584.6h0M170.5 580.4h0M169.2 570.9h0M181.5 564.5h0M187.0 571.8h0M180.1 584.1h0M181.3 565.8h0M185.2 560.9h0M189.8 572.7h0M175.0 579.7h0M176.9 557.6h0M180.3 575.9h0M167.3 556.6h0M181.0 567.2h0M178.5 584.6h0M169.6 559.5h0M169.0 564.4h0M171.8 572.9h0M180.3 558.7h0M181.2 568.8h0M172.2 556.6h0M168.8 574.9h0M187.0 580.3h0M175.9 560.9h0M179.7 564.1h0M181.7 567.6h0M188.5 578.5h0M172.3 584.9h0M167.5 570.9h0M176.0 559.9h0M171.2 573.8h0M173.8 562.3h0M184.9 577.8h0M184.0 568.4h0M183.9 568.0h0M171.8 554.9h0M172.0 552.5h0M174.4 579.1h0M182.8 582.7h0M183.2 561.0h0M179.5 567.4h0M185.0 570.6h0M172.7 575.1h0M172.6 559.9h0M184.0 586.4h0M184.0 563.3h0M187.2 563.3h0M172.1 585.0h0M181.3 577.0h0M177.5 582.5h0M182.9 583.2h0M176.8 578.2h0M179.9 562.5h0M171.5 574.3h0M169.9 552.0h0M174.6 556.3h0M167.2 552.6h0M182.8 574.8h0M182.9 578.6h0M168.0 573.1h0M175.0 581.7h0M185.8 584.4h0M169.0 558.7h0M169.1 552.3h0M186.4 581.5h0M181.4 581.9h0M181.3 561.8h0M168.8 554.7h0M174.0 566.9h0M167.0 560.6h0M173.1 577.8h0M175.1 563.0h0M189.2 569.9h0M186.5 574.2h0M167.2 566.5h0M176.8 580.0h0M174.6 577.4h0M179.1 559.1h0M178.0 580.9h0M170.8 569.5h0M174.7 582.2h0M172.6 586.4h0M173.2 559.1h0M182.9 569.7h0M169.1 574.9h0M168.4 580.5h0M182.9 580.5h0M181.3 564.3h0M175.9 565.8h0M171.3 560.9h0M187.7 569.8h0M175.4 584.1h0M172.0 568.3h0M179.0 579.3h0M184.2 575.2h0M174.7 563.2h0M170.2 582.6h0M182.1 578.8h0M170.5 567.5h0M184.7 572.7h0M169.5 568.3h0M171.0 562.3h0M183.0 582.6h0M170.1 556.8h0M172.3 563.2h0M178.8 557.0h0M174.2 558.1h0M168.9 565.4h0M183.7 567.3h0M171.1 574.9h0M169.0 558.7h0M175.6 552.3h0M175.9 580.7h0M182.8 569.8h0M181.4 568.4h0M169.8 573.6h0M176.0 578.8h0M187.8 567.1h0M180.0 579.1h0M176.4 559.6h0M183.5 584.0h0M184.7 577.3h0M186.5 576.5h0M181.6 568.0h0M173.9 574.6h0M168.8 566.7h0M184.9 577.7h0M181.3 560.4h0M176.5 568.1h0M181.1 566.4h0M182.4 585.9h0M170.8 575.5h0M184.8 565.6h0M178.0 587.5h0M167.4 571.4h0M170.3 580.3h0M188.6 570.5h0M168.9 572.5h0M179.2 577.9h0M186.0 570.6h0M176.1 586.5h0M171.4 576.7h0M175.7 579.6h0M174.9 553.1h0M172.9 566.0h0M176.4 577.2h0M174.8 560.9h0M171.8 578.8h0M188.6 570.8h0M171.6 581.1h0M175.7 559.0h0M169.5 580.1h0M185.5 574.8h0M177.5 572.1h0M174.8 575.0h0M185.7 581.6h0M177.5 562.0h0M179.4 555.7h0M186.1 564.3h0M175.3 560.5h0M176.5 558.0h0M173.1 560.2h0M173.6 569.0h0M182.0 564.6h0M187.8 580.4h0M169.8 582.2h0M181.9 560.4h0M168.9 556.4h0M172.0 580.1h0M174.6 556.7h0M187.7 580.7h0M170.4 584.4h0M180.8 580.3h0M182.2 584.5h0M185.0 582.5h0M171.1 577.0h0M179.0 578.8h0M176.8 584.1h0M179.5 560.9h0M172.0 556.2h0M178.1 553.2h0M177.5 556.4h0M178.0 569.7h0M179.2 583.4h0M177.5 572.1h0M182.1 582.5h0M175.3 566.7h0M181.5 574.9h0M182.5 585.9h0M174.3 587.8h0M178.5 569.2h0M183.4 574.4h0M174.5 583.3h0M175.1 568.8h0M178.9 579.9h0M171.5 567.3h0M176.4 571.8h0M185.9 562.0h0M186.0 566.1h0M178.3 561.2h0M178.4 587.6h0M181.9 580.7h0M174.3 562.9h0M173.5 573.0h0M181.4 580.4h0M187.3 571.5h0M167.7 562.3h0M166.6 558.1h0M188.2 573.8h0M182.0 580.6h0M187.9 573.9h0M181.0 574.5h0M182.9 573.4h0M182.5 559.0h0M182.2 568.2h0M170.8 552.4h0M184.7 585.3h0M181.9 564.8h0M185.8 580.5h0M179.7 560.7h0M173.6 566.8h0M174.0 567.2h0M181.6 586.0h0M167.8 572.3h0M167.4 555.5h0M185.5 572.6h0M188.1 567.7h0M180.4 586.2h0M189.5 568.8h0M176.2 554.8h0M181.6 559.0h0M170.1 551.6h0M169.5 551.7h0M183.4 560.1h0M183.3 583.1h0M181.3 577.6h0M177.3 586.0h0M172.5 587.2h0M173.8 578.4h0M170.4 583.3h0M177.9 553.2h0M176.8 576.4h0M169.9 580.9h0M175.0 575.2h0M181.3 566.7h0M175.6 580.5h0M188.7 580.4h0M179.8 562.0h0M183.0 582.0h0M174.3 573.7h0M180.6 562.6h0M176.6 584.3h0M175.4 576.7h0M180.6 584.6h0M185.5 561.6h0M185.7 584.3h0M185.6 583.5h0M179.9 561.3h0M186.5 581.3h0M182.6 585.3h0M174.7 554.2h0M179.5 580.9h0M171.2 579.1h0M180.8 576.4h0M177.4 558.7h0M172.5 579.2h0M185.1 568.2h0M168.6 581.2h0M184.6 559.7h0M180.1 584.6h0M187.3 570.6h0M170.9 558.2h0M170.7 577.3h0M175.0 572.2h0M176.0 570.4h0M170.0 552.7h0M169.0 574.7h0M180.5 563.9h0M186.9 569.2h0M179.8 560.8h0M184.8 567.0h0M188.7 579.8h0M172.5 552.4h0M171.2 557.8h0M168.5 552.9h0M179.6 583.7h0M177.3 586.5h0M180.6 565.9h0M172.5 572.2h0M181.6 586.9h0M182.2 565.7h0M177.0 557.0h0M171.7 552.4h0M172.5 564.2h0M185.0 577.6h0M167.8 556.4h0M184.2 586.2h0M182.4 562.2h0M180.4 579.4h0M169.0 563.1h0M172.5 555.7h0M177.8 557.3h0M172.1 556.4h0M171.7 586.0h0M169.8 567.8h0M186.3 574.6h0M177.1 563.7h0M185.8 568.9h0M181.3 556.4h0M171.7 553.1h0M183.3 571.8h0M169.9 583.7h0M172.8 566.4h0M170.2 561.2h0M186.2 563.5h0M170.4 569.4h0M174.0 584.9h0M182.2 558.9h0M177.7 561.7h0M172.6 558.6h0M168.8 561.9h0M183.6 562.0h0M185.5 563.8h0M186.1 570.7h0M170.9 567.3h0M179.9 556.2h0M170.7 579.9h0M183.2 558.4h0M168.4 554.3h0M180.8 569.6h0M172.9 558.7h0M180.9 577.5h0M185.6 572.9h0M171.3 553.5h0M183.7 566.3h0M185.6 563.6h0M186.3 583.4h0M187.9 568.9h0M170.9 582.2h0M175.1 557.1h0M177.0 570.3h0M169.3 577.8h0M185.7 583.5h0M174.0 577.7h0M175.5 579.2h0M188.9 569.6h0M178.6 570.9h0M170.8 554.9h0M172.4 581.6h0M167.2 554.6h0M182.9 558.3h0M180.0 570.6h0M186.9 577.9h0M167.6 555.6h0M178.1 569.8h0M173.1 555.6h0M176.0 556.1h0M180.4 583.3h0M170.0 572.5h0M175.6 566.8h0M186.2 570.7h0M175.8 586.3h0M184.8 563.7h0M172.1 563.6h0M176.7 587.8h0M185.4 585.2h0M185.7 582.8h0M167.8 570.4h0M172.4 566.8h0M181.4 564.7h0M176.7 569.9h0M167.0 556.2h0M188.5 574.7h0M185.5 584.2h0M181.6 561.0h0M182.4 561.3h0M179.2 585.7h0M181.1 560.4h0M178.7 567.3h0M173.7 575.3h0M169.3 573.3h0M189.0 570.3h0M172.8 568.5h0M179.0 556.6h0M169.4 555.9h0M173.4 566.2h0M173.3 560.1h0M168.6 571.5h0M186.2 573.9h0M171.2 577.6h0M177.3 571.6h0M180.9 568.6h0M173.8 560.1h0M171.7 570.2h0M179.6 569.4h0M173.4 580.0h0M170.2 553.5h0M187.0 567.5h0M168.0 565.5h0M176.8 578.6h0M169.1 559.4h0M189.0 578.7h0M170.1 563.6h0M174.8 576.3h0M181.0 582.9h0M185.8 570.4h0M183.9 578.9h0M184.4 568.8h0M184.9 577.6h0M184.5 573.0h0M178.2 587.1h0M179.9 566.7h0M184.9 583.7h0M180.8 565.2h0M177.1 568.2h0M183.5 562.0h0M175.7 571.8h0M175.5 563.1h0M185.0 582.9h0M178.2 567.7h0M170.8 562.4h0M169.9 572.6h0M186.3 582.4h0M176.5 585.1h0M179.8 569.7h0M188.1 580.0h0M179.2 588.4h0M178.7 570.4h0M182.6 565.6h0M174.8 586.5h0M182.4 570.7h0M168.8 565.0h0M175.9 572.1h0M180.0 584.0h0M189.2 569.3h0M179.0 581.6h0M170.5 562.9h0M178.5 555.1h0M187.5 576.9h0M187.4 566.8h0M170.2 561.9h0M178.5 569.9h0M170.9 557.8h0M181.3 573.6h0M176.2 580.5h0M173.7 576.9h0M186.3 573.0h0M182.2 558.4h0M178.2 571.7h0M172.8 575.3h0M179.0 588.4h0M180.0 566.4h0M169.4 556.9h0M168.9 557.4h0M178.8 581.9h0M180.9 581.2h0M184.6 563.1h0M183.3 564.3h0M170.5 561.0h0M180.2 564.1h0M177.1 565.5h0M180.2 587.0h0M172.4 552.6h0M173.9 584.7h0M185.7 562.4h0M180.7 587.0h0M178.1 586.6h0M172.2 565.6h0M183.4 559.3h0M173.8 583.8h0M177.9 580.7h0M172.2 557.5h0M174.9 558.0h0M179.7 555.3h0M179.0 565.5h0M176.0 553.5h0M169.4 582.0h0M174.8 560.2h0M171.0 561.6h0M172.1 552.3h0M182.1 563.8h0M170.2 577.5h0M168.7 561.1h0M176.9 582.4h0M174.8 578.1h0M175.4 586.9h0M178.4 559.5h0M177.1 555.9h0M183.1 560.8h0M187.6 573.0h0M175.1 560.2h0M180.8 559.0h0M178.6 571.3h0M172.9 579.9h0M175.5 575.7h0M179.8 562.7h0M175.7 554.2h0M170.7 582.9h0M174.0 575.9h0M169.1 572.1h0M175.0 569.8h0M173.5 553.5h0M173.8 559.5h0M169.5 577.9h0M173.1 566.1h0M187.9 580.1h0M187.2 583.3h0M169.6 561.4h0M182.1 564.2h0M176.2 575.7h0M182.9 560.3h0M186.4 564.2h0M181.3 557.8h0M183.8 577.7h0M167.5 552.5h0M170.3 558.4h0M173.6 565.3h0M167.4 562.7h0M181.5 557.7h0M186.2 572.4h0M183.3 560.6h0M176.7 576.7h0M186.1 580.1h0M173.2 552.6h0M186.6 573.8h0M167.6 560.2h0M169.1 580.7h0M171.4 585.3h0M182.8 565.8h0M184.1 582.1h0M173.1 554.4h0M188.7 566.9h0M188.4 576.9h0M183.9 582.1h0M181.3 568.0h0M167.8 577.2h0M176.6 570.2h0M183.0 581.2h0M172.6 571.5h0M189.3 574.9h0M179.3 560.4h0M167.9 564.4h0M176.2 558.6h0M173.8 556.1h0M183.1 576.1h0M172.1 560.1h0M178.6 567.7h0M188.5 564.2h0M173.5 584.2h0M169.8 572.1h0M174.3 581.6h0M179.4 579.5h0M170.5 576.0h0M180.6 568.3h0M184.5 582.2h0M169.2 561.9h0M175.0 558.7h0M167.9 561.5h0M171.1 577.3h0M177.0 555.2h0M174.1 568.6h0M175.0 557.3h0M168.5 577.9h0M189.5 572.1h0M169.1 569.3h0M176.7 558.1h0M188.1 575.2h0M181.3 586.1h0M181.8 560.4h0M172.3 556.2h0M186.2 562.1h0M170.9 574.9h0M170.5 580.4h0M186.0 578.8h0M174.2 557.9h0M185.9 563.0h0M175.2 571.7h0M175.2 582.2h0M172.1 552.5h0M185.8 577.5h0M178.1 569.7h0M170.2 562.2h0M176.9 587.4h0M168.6 552.5h0M176.8 558.2h0M186.3 583.1h0M185.0 567.0h0M173.2 575.8h0M178.6 566.8h0M174.5 567.5h0M182.2 582.0h0M173.4 567.6h0M179.7 564.1h0M171.1 554.2h0M174.1 568.3h0M189.1 574.2h0M182.4 573.8h0M173.5 572.4h0M188.9 569.0h0M181.7 562.2h0M174.6 584.2h0M167.2 558.1h0M182.4 567.8h0M168.5 575.8h0M176.3 570.9h0M179.8 565.9h0M169.2 557.8h0M187.4 571.6h0M169.1 583.3h0M172.5 554.6h0M179.0 560.4h0M178.0 571.8h0M171.8 572.5h0M169.2 570.2h0M176.1 553.8h0M176.8 583.4h0M179.4 577.8h0M168.9 582.1h0M175.7 557.4h0M189.1 572.1h0M172.1 565.0h0M171.5 562.2h0M183.1 567.0h0M187.4 574.3h0M187.0 572.1h0M170.4 579.0h0M174.5 579.6h0M182.5 582.0h0M169.4 565.0h0M183.8 586.6h0M179.4 581.1h0M182.4 560.5h0M171.0 567.8h0M186.2 572.8h0M169.2 551.8h0M169.1 581.0h0M170.9 571.8h0M173.3 576.8h0M175.4 556.4h0M187.1 571.2h0M182.7 581.3h0M174.5 556.7h0M178.3 583.7h0M170.8 581.7h0M182.5 565.7h0M177.7 556.9h0M186.4 565.8h0M187.0 573.9h0M168.3 563.3h0M171.6 584.5h0M170.5 564.5h0M177.5 572.6h0M175.6 564.3h0M177.3 588.0h0M167.6 556.5h0M182.3 561.2h0M172.9 569.8h0M172.7 572.3h0M178.9 586.9h0M179.7 579.9h0M187.0 580.0h0M181.4 574.8h0M175.0 561.6h0M185.2 583.7h0M188.6 576.6h0M173.6 579.6h0M183.9 570.1h0M181.4 564.1h0M179.4 566.2h0M167.9 563.6h0M174.1 588.1h0M177.8 564.8h0M172.2 559.8h0M174.7 556.1h0M177.1 567.7h0M179.9 562.3h0M170.5 553.5h0M173.6 562.6h0M183.6 571.7h0M188.1 572.9h0M168.4 557.7h0M180.1 588.0h0M174.9 580.0h0M176.6 583.6h0M168.1 569.2h0M172.6 551.9h0M170.4 561.1h0M183.1 559.2h0M175.9 558.5h0M180.7 583.4h0M181.7 558.4h0M185.5 583.8h0M174.5 556.1h0M170.9 571.1h0M187.1 575.0h0M174.2 579.1h0M181.7 566.2h0M182.5 563.7h0M167.9 566.5h0M167.6 574.5h0M174.4 569.5h0M180.5 560.6h0M188.2 572.2h0M180.9 578.2h0M174.2 554.5h0M170.2 556.3h0M185.6 566.9h0M180.6 563.4h0M183.9 560.7h0M183.2 579.6h0M184.7 562.6h0M177.1 561.4h0M178.8 586.3h0M184.7 564.6h0M167.2 556.0h0M167.9 569.8h0M179.5 557.8h0M188.6 564.7h0M170.0 557.7h0M183.8 585.6h0M170.3 552.1h0M184.8 560.1h0M189.6 569.7h0M181.4 563.9h0M185.3 568.3h0M174.1 584.9h0M169.0 578.5h0M168.0 575.2h0M175.9 583.4h0M167.9 572.2h0M176.1 585.5h0M188.7 574.5h0M171.8 560.4h0M172.7 567.3h0M171.9 558.6h0M184.3 575.1h0M171.6 572.4h0M170.2 583.4h0M184.2 581.9h0M173.1 563.4h0M177.9 584.4h0M170.3 576.6h0M180.5 568.0h0M180.1 584.1h0M171.4 584.1h0M175.0 580.2h0M173.5 551.9h0M170.0 578.6h0M168.8 557.3h0M174.5 585.4h0M183.3 584.1h0M172.0 580.7h0M178.4 559.7h0M176.6 554.9h0M173.9 583.9h0M169.3 569.3h0M169.7 567.1h0M170.7 576.7h0M170.0 578.7h0M178.3 555.2h0M174.8 569.6h0M188.1 564.1h0M187.3 578.4h0M172.9 557.6h0M172.7 553.6h0M167.5 570.1h0M176.1 571.9h0M159.7 546.1h0M163.9 552.5h0M162.1 551.5h0M164.0 555.8h0M166.4 553.2h0M160.2 549.2h0M160.4 555.7h0M160.0 549.9h0M160.3 547.4h0M168.0 546.1h0M162.9 555.3h0M158.3 552.1h0M159.9 548.4h0M157.6 547.2h0M166.0 553.8h0M166.8 546.5h0M164.0 549.2h0M163.4 551.5h0M159.1 555.7h0M155.0 553.5h0M166.1 551.1h0M162.7 555.9h0M263.8 537.2h0M256.5 538.3h0M252.9 535.0h0M259.9 540.1h0M258.0 536.8h0M259.1 533.1h0M270.0 543.0h0M256.8 540.4h0M259.9 538.5h0M256.0 535.0h0M268.3 546.3h0M266.8 546.2h0M259.2 533.6h0M254.8 536.5h0M263.9 539.4h0M267.7 540.3h0M264.9 540.4h0M254.5 537.5h0M255.3 538.2h0M267.7 542.3h0M262.8 537.2h0M254.8 536.9h0M259.8 538.7h0M261.0 536.6h0M255.0 537.7h0M262.7 536.6h0M271.0 541.7h0M258.8 534.3h0M262.5 542.3h0M251.8 537.3h0M265.0 544.3h0M261.3 538.4h0M255.8 533.5h0M270.4 542.5h0M268.7 546.6h0M272.0 542.1h0M259.7 541.1h0M260.0 535.8h0M253.3 534.5h0M264.6 538.4h0M257.4 537.9h0M255.1 537.9h0M269.9 543.5h0M255.2 536.0h0M260.2 534.7h0M266.2 542.6h0M259.2 535.4h0M265.0 545.2h0M259.3 538.6h0M257.3 536.3h0M264.8 539.3h0M264.3 541.2h0M255.4 531.9h0M262.3 536.4h0M263.0 540.9h0M263.3 543.8h0M263.4 542.9h0M253.6 537.9h0M270.3 545.3h0M268.5 543.9h0M262.7 536.7h0M261.2 541.0h0M266.5 545.8h0M261.0 543.0h0M262.1 535.0h0M260.9 539.2h0M268.8 541.1h0M252.6 535.8h0M255.2 538.6h0M265.3 538.0h0M261.8 541.9h0M255.4 539.7h0M255.5 532.2h0M263.6 542.0h0M262.7 543.8h0M260.8 547.2h0M262.7 548.6h0M261.9 548.8h0M264.6 548.3h0M263.5 549.6h0M261.3 551.1h0M261.1 548.4h0M260.8 550.2h0M273.7 558.6h0M266.5 561.1h0M269.2 560.6h0M267.8 559.2h0M275.4 557.9h0M276.3 557.5h0M267.7 558.8h0M274.6 560.9h0M276.5 559.3h0M270.6 556.4h0M275.0 560.8h0M270.5 558.6h0M273.5 557.7h0M266.3 556.5h0M268.3 556.6h0M272.1 558.0h0M265.1 560.6h0M265.4 560.7h0M265.3 559.7h0M272.7 560.5h0M269.6 560.5h0M270.2 563.2h0M267.1 557.0h0M270.6 560.5h0M271.5 561.2h0M275.5 558.1h0M269.2 561.7h0M274.1 562.1h0M273.4 558.8h0M274.0 558.4h0M288.7 556.6h0M295.1 559.1h0M289.6 563.7h0M291.4 568.0h0M295.0 567.4h0M295.0 582.3h0M294.5 571.4h0M291.0 559.7h0M288.3 556.2h0M289.7 554.5h0M292.3 573.6h0M293.0 575.5h0M292.6 581.6h0M297.6 557.4h0M295.0 562.5h0M298.9 566.3h0M288.5 554.2h0M292.7 577.5h0M290.4 556.0h0M289.4 575.3h0M301.9 556.6h0M289.4 585.0h0M295.7 567.4h0M285.4 555.0h0M288.3 575.2h0M289.7 567.9h0M296.2 579.5h0M297.6 568.6h0M290.8 575.5h0M293.2 586.4h0M294.6 574.1h0M297.3 570.4h0M293.8 576.9h0M290.1 570.8h0M295.1 564.0h0M287.6 568.0h0M292.5 568.6h0M289.1 570.3h0M295.5 556.7h0M297.2 578.6h0M287.9 562.0h0M297.5 567.8h0M295.8 574.8h0M284.9 554.9h0M294.1 586.3h0M298.1 569.0h0M289.2 557.7h0M296.9 580.5h0M291.9 556.1h0M289.5 578.5h0M299.4 567.4h0M301.7 567.0h0M284.5 560.4h0M285.7 563.3h0M291.9 570.3h0M294.6 562.5h0M297.3 555.1h0M290.2 573.9h0M292.3 560.8h0M297.3 563.8h0M293.4 584.4h0M291.7 571.3h0M290.4 565.6h0M293.8 576.8h0M302.2 568.5h0M289.7 565.9h0M297.8 558.9h0M289.1 560.0h0M294.1 579.9h0M297.7 568.9h0M294.4 557.6h0M288.8 565.4h0M291.1 576.7h0M288.8 561.6h0M287.9 570.6h0M288.6 570.4h0M288.9 579.7h0M297.3 569.1h0M295.4 572.0h0M290.9 556.1h0M298.8 580.8h0M292.7 580.7h0M293.0 581.0h0M298.7 556.5h0M295.7 556.2h0M298.6 565.2h0M291.5 562.8h0M300.2 576.1h0M290.0 579.7h0M296.1 580.6h0M297.9 569.7h0M295.8 573.4h0M289.7 564.0h0M294.1 567.2h0M298.1 576.4h0M291.7 563.0h0M292.6 567.2h0M302.0 563.0h0M298.9 580.3h0M297.2 574.5h0M289.0 577.3h0M294.3 565.8h0M290.8 576.4h0M287.0 559.8h0M301.7 569.7h0M300.0 560.7h0M293.4 561.5h0M300.0 574.5h0M291.9 566.8h0M288.2 560.6h0M297.8 564.2h0M286.1 566.9h0M291.7 567.5h0M293.2 567.3h0M288.5 558.5h0M293.4 576.1h0M286.1 570.2h0M287.5 574.7h0M290.9 577.0h0M299.7 567.6h0M291.7 555.8h0M288.2 575.4h0M300.1 558.0h0M291.3 572.4h0M297.5 564.9h0M291.3 579.0h0M293.7 568.7h0M295.3 557.2h0M293.4 563.6h0M287.3 571.9h0M298.0 571.9h0M294.0 577.1h0M292.4 588.3h0M295.4 578.0h0M291.6 567.4h0M290.9 561.7h0M289.6 573.3h0M293.2 557.7h0M298.7 572.1h0M302.1 562.4h0M287.5 578.4h0M285.1 556.2h0M301.4 571.6h0M293.0 588.0h0M299.7 561.1h0M298.1 566.9h0M293.3 564.3h0M288.5 563.9h0M289.5 559.8h0M301.5 566.6h0M295.2 582.2h0M297.6 558.6h0M300.8 564.9h0M298.0 572.6h0M290.9 585.7h0M292.8 555.6h0M296.7 581.4h0M288.5 561.8h0M299.4 572.0h0M302.9 562.9h0M289.8 569.2h0M291.7 577.0h0M291.4 575.8h0M286.8 554.5h0M301.1 559.7h0M285.1 556.1h0M285.6 563.3h0M295.6 576.6h0M289.7 571.6h0M290.6 573.9h0M288.2 573.0h0M287.8 569.0h0M289.3 576.1h0M295.0 565.7h0M289.8 571.3h0M298.9 564.6h0M296.0 562.6h0M298.4 570.9h0M290.2 569.1h0M292.0 577.1h0M292.7 574.1h0M296.1 556.2h0M294.1 580.0h0M297.6 557.6h0M292.2 571.3h0M289.3 558.9h0M298.7 574.8h0M295.3 584.4h0M285.3 566.6h0M288.4 574.5h0M331.5 570.4h0M332.0 563.0h0M336.3 560.0h0M336.1 561.1h0M337.3 559.0h0M330.1 568.8h0M334.1 561.3h0M335.6 563.6h0M328.0 569.5h0M336.0 561.3h0M332.0 567.2h0M331.2 561.5h0M333.4 570.8h0M335.0 559.9h0M339.5 563.0h0M338.6 567.3h0M327.0 570.2h0M329.8 571.2h0M327.9 570.1h0M333.2 565.0h0M328.6 564.6h0M336.6 565.5h0M338.7 559.8h0M336.3 566.1h0M338.4 562.5h0M332.5 569.0h0M329.6 563.0h0M337.9 566.8h0M336.7 563.6h0M329.3 563.2h0M327.9 569.4h0M335.4 560.2h0M329.9 566.4h0M326.9 569.7h0M327.4 565.1h0M330.9 564.8h0M333.0 569.3h0M333.4 560.4h0M338.5 560.0h0M335.4 568.9h0M332.3 565.9h0M330.7 569.1h0M335.6 559.1h0M335.9 559.9h0M332.8 566.8h0M336.3 562.4h0M338.8 565.5h0M334.7 568.3h0M337.3 559.9h0M329.7 567.6h0M334.1 569.6h0M336.8 562.5h0M328.4 566.9h0M329.9 563.4h0M335.2 566.6h0M338.5 567.5h0M338.7 566.3h0M335.1 570.0h0M336.4 566.6h0M336.0 569.4h0M332.2 569.4h0M336.6 559.8h0M336.4 561.4h0M338.4 563.6h0M328.7 563.6h0M328.0 569.9h0M329.1 571.4h0M338.0 563.7h0M338.0 567.8h0M333.9 564.9h0M336.0 566.1h0M332.2 569.4h0M330.0 563.3h0M329.4 569.4h0M330.2 567.0h0M335.8 569.3h0M334.9 565.5h0M328.7 565.0h0M329.4 569.4h0M328.5 568.3h0M334.1 561.7h0M336.6 558.9h0M335.5 561.5h0M339.4 562.4h0M326.8 568.0h0M338.5 567.0h0M328.4 568.1h0M329.7 571.3h0M329.9 568.8h0M336.3 566.7h0M334.5 559.9h0M333.4 560.5h0M339.6 562.3h0M329.9 565.1h0M326.5 568.7h0M336.9 562.2h0M326.4 570.1h0M337.3 568.3h0M328.9 570.9h0M328.6 570.0h0M334.4 566.6h0M337.0 564.1h0M331.1 568.7h0M330.7 570.7h0M330.7 566.5h0M329.6 567.8h0M330.0 563.7h0M336.1 569.2h0M329.0 568.4h0M335.4 567.7h0M337.3 561.2h0M330.9 566.1h0M329.6 568.7h0M329.0 564.0h0M335.6 561.0h0M335.3 563.4h0M335.1 569.1h0M335.5 569.6h0M335.3 568.5h0M337.7 566.0h0M330.1 565.6h0M337.6 561.6h0M328.7 566.0h0M338.1 559.0h0M326.3 569.6h0M331.2 562.7h0M335.8 565.2h0M327.6 567.6h0M329.1 565.1h0M329.7 564.6h0M333.0 561.6h0M337.4 559.9h0M333.5 568.9h0M334.0 562.7h0M332.8 564.1h0M337.8 566.4h0M333.7 564.9h0M338.5 562.8h0M337.2 564.1h0M333.3 561.0h0M338.5 563.7h0M331.7 568.0h0M332.7 563.7h0M337.6 563.7h0M328.8 564.5h0M336.8 562.7h0M334.8 562.1h0M327.6 568.5h0M336.8 567.5h0M334.5 560.4h0M333.0 569.2h0M337.0 566.0h0M334.8 560.3h0M326.8 569.4h0M331.6 567.5h0M335.8 569.7h0M339.0 561.7h0M338.8 561.3h0M336.8 560.8h0M333.5 561.8h0M334.0 567.7h0M333.2 563.4h0M332.3 563.0h0M336.2 566.6h0M335.6 566.6h0M333.2 560.7h0M338.8 565.2h0M332.4 561.5h0M331.3 571.2h0M331.7 568.9h0M327.7 566.1h0M330.3 563.4h0M335.0 563.5h0M338.1 560.1h0M338.0 563.9h0M337.1 563.3h0M329.6 570.1h0M334.9 567.8h0M333.3 567.6h0M339.6 562.7h0M330.2 569.9h0M332.1 563.6h0M330.2 563.6h0M331.4 564.2h0M332.7 570.2h0M338.0 564.7h0M334.1 569.4h0M336.6 565.3h0M333.8 565.7h0M327.1 569.2h0M330.5 563.6h0M330.8 568.9h0M331.3 564.1h0M338.6 565.3h0M328.1 568.7h0M335.3 562.0h0M328.3 566.6h0M339.0 561.4h0M329.2 563.6h0M329.3 566.9h0M338.4 566.3h0M330.3 563.4h0M332.0 562.3h0M334.6 560.7h0M333.1 567.4h0M333.0 568.0h0M336.9 564.0h0M335.7 563.0h0M328.5 570.0h0M332.6 569.4h0M337.8 561.3h0M329.2 570.0h0M329.3 566.1h0M339.1 564.3h0M331.9 570.9h0M335.9 561.0h0M338.9 565.3h0M329.3 571.1h0M339.2 562.8h0M332.7 569.1h0M333.2 570.6h0M334.6 569.8h0M328.7 564.8h0M338.8 565.7h0M337.1 568.9h0M332.2 567.3h0M335.7 563.9h0M333.3 568.9h0M331.1 567.1h0M333.7 569.5h0M329.4 564.3h0M329.6 568.8h0M334.3 568.5h0M334.2 566.3h0M332.0 561.7h0M337.4 563.2h0M336.0 565.4h0M335.4 569.7h0M338.8 560.1h0M334.3 560.0h0M329.9 565.8h0M329.9 570.1h0M334.8 566.1h0M330.5 562.0h0M336.7 558.2h0M326.5 568.6h0M328.6 563.7h0M335.1 567.1h0M330.0 567.2h0M338.8 564.3h0M331.5 567.3h0M338.2 567.3h0M335.4 560.8h0M339.2 562.0h0M330.3 570.5h0M330.9 569.1h0M329.4 569.6h0M332.3 569.5h0M332.8 563.0h0M332.4 570.8h0M337.7 560.1h0M327.2 568.0h0M326.7 567.5h0M337.1 560.4h0M337.1 558.9h0M328.6 566.9h0M328.4 563.9h0M332.8 565.3h0M333.7 560.2h0M330.6 571.1h0M335.1 567.0h0M334.5 560.7h0M327.3 569.3h0M335.2 569.5h0M333.0 560.8h0M334.2 570.8h0M332.6 565.5h0M335.8 569.6h0M339.5 562.5h0M328.5 570.4h0M334.5 569.9h0M328.1 568.7h0M331.8 566.9h0M339.1 563.8h0M334.1 563.5h0M331.4 561.6h0M336.1 568.8h0M335.6 564.0h0M334.2 563.5h0M333.5 564.6h0M330.1 563.6h0M332.0 570.1h0M338.5 561.9h0M332.4 561.0h0M332.5 564.2h0M333.0 564.4h0M330.5 562.7h0M327.5 566.1h0M329.1 565.2h0M333.0 566.6h0M338.5 567.3h0M337.7 566.9h0M329.1 569.0h0M336.6 564.6h0M338.7 562.8h0M333.6 568.8h0M328.3 564.7h0M339.0 564.8h0M338.0 561.7h0M332.5 561.3h0M334.3 567.5h0M334.0 565.9h0M330.3 570.9h0M337.9 561.3h0M339.2 564.2h0M334.0 566.7h0M334.6 569.9h0M338.6 562.3h0M338.5 562.3h0M335.6 560.1h0M334.9 562.1h0M331.4 571.0h0M327.6 568.1h0M334.9 565.3h0M327.8 570.6h0M334.0 566.3h0M328.8 564.7h0M331.5 568.3h0M333.3 567.3h0M331.3 568.8h0M141.2 670.2h0M141.5 679.0h0M145.4 664.3h0M151.5 665.0h0M151.5 676.0h0M155.3 671.3h0M151.6 676.2h0M153.0 672.9h0M154.7 675.4h0M143.7 668.6h0M143.6 678.6h0M152.6 674.5h0M142.8 667.0h0M141.7 674.4h0M145.5 666.0h0M139.6 665.1h0M146.9 663.0h0M144.2 665.7h0M154.0 672.0h0M146.1 670.4h0M147.6 676.2h0M154.4 666.7h0M144.8 664.0h0M145.6 679.8h0M150.7 670.3h0M142.3 665.8h0M144.7 667.2h0M146.0 672.3h0M144.2 672.7h0M144.4 671.0h0M145.9 677.2h0M154.7 672.5h0M151.8 667.4h0M139.0 667.7h0M138.5 675.8h0M155.2 673.6h0M140.2 664.4h0M152.1 672.3h0M138.9 668.2h0M147.0 673.5h0M138.8 666.9h0M145.7 678.8h0M139.6 668.9h0M149.8 676.6h0M142.2 662.9h0M146.5 664.3h0M149.7 669.3h0M152.9 667.8h0M137.3 671.0h0M146.3 677.2h0M136.1 665.3h0M140.8 669.8h0M153.2 673.9h0M140.6 669.0h0M152.0 672.0h0M137.8 668.5h0M136.0 670.2h0M140.5 667.4h0M142.8 677.6h0M137.3 663.6h0M138.3 669.7h0M144.9 678.8h0M151.1 666.8h0M138.3 671.9h0M153.4 666.0h0M151.9 668.6h0M139.2 676.5h0M148.2 669.0h0M146.6 678.3h0M145.8 672.2h0M153.7 684.0h0M157.6 682.6h0M159.3 681.1h0M155.3 684.7h0M157.9 685.9h0M159.3 686.5h0M160.8 681.0h0M151.2 688.3h0M160.7 682.9h0M151.0 688.7h0M151.3 685.5h0M159.2 684.1h0M158.7 682.0h0M151.7 685.6h0M159.7 683.8h0M155.3 683.3h0M153.9 686.3h0M157.2 683.7h0M161.3 682.2h0M155.1 686.2h0M151.6 685.2h0M149.7 691.9h0M162.0 683.8h0M149.0 687.4h0M151.2 685.3h0M152.2 686.4h0M153.5 689.5h0M157.2 688.8h0M151.1 685.5h0M159.3 685.9h0M159.1 683.6h0M158.3 682.1h0M158.6 686.0h0M156.2 686.7h0M154.3 686.4h0M154.9 687.3h0M159.4 683.2h0M155.5 685.5h0M150.9 689.9h0M149.1 692.0h0M147.8 687.9h0M158.3 684.4h0M152.2 687.8h0M161.4 684.3h0M154.3 689.9h0M150.3 686.1h0M159.1 686.5h0M158.9 683.9h0M156.8 683.7h0M152.9 690.5h0M161.1 686.4h0M156.3 687.3h0M152.8 686.9h0M161.6 684.8h0M160.2 681.6h0M154.9 689.3h0M161.8 685.2h0M159.8 682.5h0M156.9 682.9h0M153.1 684.2h0M153.2 685.3h0M154.2 688.0h0M158.5 687.3h0M160.6 682.4h0M152.5 687.2h0M152.5 690.1h0M159.5 685.3h0M156.5 684.4h0M152.6 689.5h0M150.6 692.0h0M166.5 688.4h0M176.5 685.2h0M180.3 704.4h0M186.2 706.1h0M182.6 713.5h0M185.5 699.3h0M167.9 688.5h0M179.4 701.2h0M174.1 699.4h0M178.8 709.1h0M183.7 691.0h0M170.8 712.8h0M175.4 701.1h0M165.9 694.7h0M175.8 698.5h0M187.8 695.2h0M187.2 691.6h0M178.6 708.9h0M189.6 700.9h0M184.2 708.0h0M174.3 689.3h0M180.0 712.7h0M170.5 700.8h0M180.9 703.3h0M170.3 687.8h0M167.8 704.5h0M172.4 686.9h0M170.1 705.1h0M166.2 684.5h0M163.4 688.1h0M178.4 697.2h0M182.5 702.9h0M165.5 680.9h0M184.8 710.0h0M179.9 700.0h0M172.0 712.8h0M172.7 684.2h0M176.7 693.8h0M174.0 685.8h0M171.3 684.8h0M186.5 707.5h0M171.3 705.2h0M180.3 697.3h0M177.0 697.9h0M173.8 702.3h0M173.4 691.8h0M173.9 710.2h0M169.0 708.4h0M176.3 684.1h0M165.4 682.2h0M177.6 705.8h0M179.6 711.4h0M172.7 705.2h0M168.5 689.1h0M170.7 703.2h0M179.1 710.7h0M184.2 696.9h0M187.9 705.8h0M173.9 691.8h0M185.7 709.4h0M168.2 685.6h0M177.9 697.1h0M187.4 707.6h0M171.2 686.3h0M170.5 683.6h0M185.8 701.4h0M180.2 704.5h0M184.1 712.1h0M169.4 684.8h0M184.6 690.3h0M174.8 711.8h0M167.9 686.5h0M172.3 693.9h0M171.7 692.8h0M183.8 701.6h0M173.0 712.9h0M176.1 683.7h0M165.8 688.5h0M180.8 701.1h0M163.9 683.0h0M169.0 681.5h0M169.1 688.0h0M172.3 703.0h0M185.1 701.8h0M183.4 704.5h0M170.1 685.8h0M172.7 692.6h0M177.5 709.6h0M184.3 706.9h0M180.1 693.8h0M178.1 699.5h0M169.7 700.9h0M174.5 703.0h0M181.3 709.9h0M171.5 709.1h0M172.4 710.1h0M176.5 702.3h0M176.2 693.7h0M167.9 686.8h0M181.9 693.0h0M175.9 694.1h0M171.3 707.1h0M179.5 698.2h0M179.6 706.9h0M178.3 710.4h0M170.8 689.2h0M175.1 710.4h0M175.3 714.5h0M170.3 701.1h0M183.5 693.0h0M170.9 688.8h0M175.5 710.4h0M177.9 702.8h0M168.7 700.7h0M183.1 693.1h0M176.4 717.2h0M179.3 693.5h0M183.5 702.4h0M174.1 684.0h0M175.5 698.4h0M185.1 692.0h0M189.5 702.3h0M175.7 686.8h0M166.6 682.8h0M170.5 706.9h0M179.2 691.4h0M186.3 706.7h0M186.3 699.3h0M168.4 681.4h0M186.1 703.8h0M178.6 690.4h0M175.8 716.6h0M168.4 706.8h0M181.8 712.0h0M186.3 690.7h0M173.1 684.8h0M176.4 713.3h0M169.8 698.3h0M180.7 711.3h0M188.4 694.0h0M173.3 709.4h0M184.4 710.5h0M183.5 703.0h0M171.7 708.0h0M174.0 709.4h0M178.7 694.1h0M171.2 699.6h0M166.2 690.3h0M180.0 687.9h0M171.3 687.2h0M180.1 696.1h0M189.3 697.3h0M182.4 713.0h0M186.4 701.6h0M186.5 693.9h0M185.2 697.0h0M184.3 704.7h0M175.4 690.5h0M185.7 705.8h0M180.9 711.7h0M169.7 700.8h0M174.5 710.6h0M184.7 708.2h0M180.7 712.1h0M176.0 706.6h0M175.0 702.6h0M170.3 688.1h0M186.4 701.5h0M171.3 691.7h0M171.8 700.2h0M172.1 695.2h0M172.6 682.2h0M186.8 692.0h0M173.0 693.8h0M177.2 705.1h0M175.0 705.3h0M173.0 708.5h0M185.5 689.9h0M177.0 684.3h0M171.3 702.5h0M184.5 705.6h0M176.7 686.0h0M187.2 695.3h0M171.8 713.2h0M172.2 702.9h0M171.2 704.1h0M172.2 703.0h0M184.6 699.3h0M182.7 695.6h0M168.3 693.2h0M172.8 699.0h0M176.0 710.6h0M184.3 695.7h0M183.6 703.2h0M186.8 704.8h0M176.4 715.0h0M189.5 702.6h0M179.0 688.9h0M181.2 700.4h0M189.3 693.3h0M174.8 702.5h0M173.1 699.6h0M176.8 684.4h0M169.6 705.5h0M171.7 699.9h0M173.8 690.5h0M167.2 692.3h0M180.2 699.4h0M171.4 706.3h0M171.9 712.3h0M185.8 689.4h0M176.7 694.3h0M163.6 689.0h0M188.4 704.1h0M182.7 699.1h0M181.9 696.8h0M176.9 705.2h0M180.1 711.9h0M166.9 688.2h0M175.1 689.7h0M177.5 692.0h0M173.6 711.1h0M179.5 689.1h0M176.8 685.3h0M171.0 683.3h0M176.5 713.4h0M175.1 692.2h0M175.9 694.2h0M167.9 688.8h0M176.5 695.3h0M186.8 701.3h0M171.8 699.5h0M169.3 682.1h0M170.9 695.0h0M183.8 696.1h0M171.1 687.2h0M178.0 699.7h0M182.7 700.5h0M175.8 686.7h0M177.5 700.0h0M165.1 682.0h0M176.2 707.7h0M172.4 705.0h0M169.6 708.1h0M184.4 700.8h0M187.8 696.0h0M172.9 709.5h0M183.7 696.8h0M174.7 703.6h0M179.3 694.9h0M174.0 716.0h0M167.2 692.7h0M179.5 701.6h0M185.7 689.5h0M181.1 697.4h0M171.9 708.5h0M180.1 695.2h0M189.3 696.3h0M169.6 689.1h0M172.0 692.0h0M184.6 711.7h0M171.1 690.0h0M175.6 706.1h0M181.1 710.9h0M180.7 689.7h0M186.0 702.7h0M169.5 708.8h0M213.1 696.7h0M214.8 694.2h0M208.6 697.1h0M208.8 696.4h0M219.2 692.6h0M212.2 695.7h0M215.4 694.5h0M210.8 699.9h0M207.7 697.4h0M216.0 691.9h0M215.7 693.5h0M213.8 694.7h0M217.2 691.3h0M217.2 692.4h0M217.1 689.7h0M210.4 694.7h0M208.9 698.9h0M212.6 693.8h0M209.4 696.6h0M218.5 691.2h0M213.3 695.5h0M213.2 695.1h0M210.7 700.0h0M215.6 694.5h0M217.3 689.5h0M208.4 697.5h0M209.5 696.4h0M213.8 696.6h0M215.6 694.4h0M215.2 696.0h0M217.1 689.8h0M217.2 694.5h0M217.7 691.8h0M211.7 694.0h0M210.3 695.1h0M210.1 699.3h0M213.7 694.0h0M215.8 692.0h0M217.8 689.8h0M209.9 696.2h0M258.4 672.5h0M256.3 665.4h0M258.0 668.3h0M270.2 666.7h0M261.2 662.4h0M271.5 666.6h0M271.3 674.1h0M253.8 666.8h0M270.8 672.9h0M261.5 664.1h0M255.2 667.6h0M263.3 672.5h0M272.7 673.1h0M264.9 670.5h0M252.1 670.7h0M261.8 675.9h0M256.8 667.6h0M257.3 672.5h0M260.6 672.9h0M269.5 674.3h0M255.1 673.5h0M262.3 676.2h0M273.9 671.7h0M255.2 667.6h0M260.2 676.1h0M255.3 668.6h0M260.2 670.5h0M256.8 663.3h0M263.3 672.4h0M270.6 673.6h0M251.4 665.1h0M266.8 672.3h0M260.8 672.9h0M262.3 667.0h0M258.8 668.9h0M255.2 671.3h0M271.4 665.0h0M256.6 666.4h0M268.0 677.7h0M256.3 670.0h0M258.2 673.6h0M258.5 664.8h0M271.6 673.7h0M270.7 676.1h0M262.3 668.9h0M270.8 669.9h0M257.1 671.8h0M261.9 674.2h0M272.8 674.7h0M252.7 670.8h0M262.2 662.7h0M258.2 662.1h0M268.7 665.4h0M257.7 673.0h0M267.6 672.1h0M252.9 665.5h0M271.6 668.2h0M258.5 669.9h0M258.9 673.0h0M262.5 677.3h0M264.6 671.0h0M265.4 665.0h0M260.8 670.1h0M270.7 671.0h0M253.0 664.8h0M262.7 668.4h0M271.6 665.7h0M265.8 677.0h0M266.1 665.9h0M256.3 674.9h0M261.7 663.6h0M269.2 673.8h0M260.3 669.8h0M261.8 667.6h0M266.6 669.2h0M259.0 669.7h0M259.0 666.0h0M257.9 667.7h0M257.9 667.9h0M268.1 665.7h0M258.4 673.6h0M267.3 666.9h0M258.1 673.4h0M260.4 674.9h0M267.8 665.7h0M265.1 676.3h0M266.9 676.0h0M259.5 666.6h0M264.5 667.8h0M264.1 666.0h0M256.2 671.7h0M253.8 665.7h0M254.9 666.4h0M272.4 670.3h0M262.7 667.2h0M263.9 674.4h0M260.0 664.2h0M255.6 673.2h0M263.0 676.9h0M256.5 673.4h0M260.7 666.5h0M268.9 667.1h0M256.5 669.2h0M261.6 663.3h0M275.6 668.4h0M260.1 664.0h0M254.7 664.9h0M252.8 670.8h0M267.2 675.6h0M257.5 674.9h0M255.9 665.2h0M272.8 673.9h0M252.6 665.9h0M255.1 672.0h0M261.7 677.1h0M271.9 666.6h0M257.8 670.0h0M261.1 674.7h0M265.7 668.3h0M275.2 667.6h0M262.1 674.4h0M271.9 666.8h0M262.3 676.7h0M270.5 666.9h0M260.8 671.2h0M258.7 662.2h0M265.4 671.8h0M267.6 664.7h0M256.1 670.0h0M260.4 673.0h0M254.4 670.3h0M261.6 665.1h0M275.1 666.0h0M273.5 667.6h0M258.4 674.9h0M264.8 671.5h0M268.8 670.3h0M271.5 670.9h0M263.0 676.5h0M263.2 673.1h0M264.3 676.9h0M252.9 666.5h0M258.1 665.9h0M266.1 673.4h0M257.4 675.2h0M262.3 670.0h0M260.1 669.3h0M275.2 666.6h0M258.8 663.5h0M272.7 668.4h0M266.8 656.9h0M265.8 656.7h0M267.0 657.6h0M275.1 688.6h0M274.5 688.3h0M271.9 684.8h0M273.6 689.4h0M272.1 689.0h0M276.3 688.6h0M276.2 685.0h0M270.7 687.6h0M275.4 689.3h0M275.5 687.7h0M273.0 690.0h0M272.4 686.7h0M271.3 687.5h0M275.3 687.1h0M273.1 683.8h0M298.4 695.0h0M300.4 695.9h0M298.5 687.9h0M301.9 694.3h0M294.4 690.1h0M300.0 695.3h0M294.5 694.9h0M289.4 691.1h0M298.0 699.1h0M290.5 688.5h0M294.1 692.1h0M291.6 688.3h0M290.6 701.2h0M295.9 684.3h0M287.4 689.9h0M287.7 684.2h0M298.5 692.3h0M286.9 692.8h0M296.9 699.6h0M292.3 686.4h0M288.7 683.1h0M294.1 696.6h0M288.5 687.8h0M287.6 699.7h0M294.9 687.8h0M290.8 687.4h0M298.6 688.6h0M290.5 701.5h0M289.0 696.7h0M301.4 688.4h0M298.9 688.7h0M287.3 696.6h0M290.6 691.6h0M288.3 694.9h0M288.5 691.5h0M288.1 695.3h0M299.0 701.7h0M289.7 698.5h0M289.9 700.9h0M302.2 696.8h0M291.8 689.3h0M287.5 700.5h0M301.7 696.9h0M301.4 689.0h0M285.6 692.1h0M299.9 695.6h0M291.8 692.2h0M288.6 690.2h0M295.6 696.8h0M290.2 695.5h0M284.9 682.5h0M291.7 697.5h0M288.6 701.8h0M298.8 686.5h0M299.2 689.3h0M293.5 690.1h0M286.8 690.9h0M299.3 699.1h0M295.1 695.0h0M299.4 692.1h0M298.1 685.7h0M297.7 702.2h0M298.5 701.3h0M297.2 697.3h0M291.0 685.7h0M291.2 684.2h0M301.2 691.0h0M292.7 694.7h0M291.0 696.9h0M289.0 682.6h0M300.9 693.3h0M290.2 698.5h0M286.0 688.4h0M293.4 700.0h0M295.1 691.7h0M295.9 701.6h0M291.1 685.9h0M294.2 684.8h0M288.6 695.8h0M292.5 685.7h0M300.0 695.4h0M294.6 692.0h0M302.0 695.6h0M296.5 701.5h0M288.4 692.4h0M294.8 688.8h0M295.2 694.2h0M301.6 691.7h0M291.7 693.5h0M284.1 682.6h0M302.1 706.7h0M279.6 703.5h0M275.6 701.9h0M289.5 704.9h0M278.7 697.2h0M304.9 708.6h0M276.6 700.7h0M305.3 709.9h0M288.3 702.2h0M278.2 696.6h0M276.2 694.5h0M290.6 704.5h0M302.1 710.2h0M278.1 703.4h0M290.1 710.5h0M285.1 704.1h0M287.8 702.2h0M275.3 701.8h0M286.3 704.4h0M273.4 696.3h0M290.0 707.0h0M293.6 711.7h0M279.5 701.2h0M292.6 708.5h0M276.6 703.6h0M295.8 704.6h0M294.9 707.0h0M280.0 699.7h0M291.9 705.7h0M285.1 697.8h0M290.0 698.8h0M290.1 701.2h0M278.5 703.1h0M283.0 696.7h0M283.6 703.6h0M283.3 697.4h0M297.0 704.8h0M293.8 708.7h0M288.3 708.8h0M286.2 705.0h0" stroke="#f27b6c" stroke-width="1.4" stroke-linecap="round" fill="none"/>
<path d="M159.6 544.6h0M164.2 541.5h0M164.0 541.7h0M162.2 544.4h0M163.6 540.9h0M163.2 543.5h0M159.5 544.4h0M159.8 547.9h0M161.8 545.7h0M162.2 542.7h0M159.4 538.7h0M165.9 543.3h0M162.2 543.3h0M164.9 539.9h0M159.0 546.9h0M161.6 544.7h0M160.9 547.0h0M164.9 538.5h0M158.8 540.0h0M158.3 541.3h0M164.8 543.3h0M161.6 538.1h0M163.8 542.4h0M161.8 546.6h0M164.4 538.8h0M163.7 541.4h0M162.2 539.9h0M160.8 541.1h0M160.9 537.2h0M159.2 543.8h0M164.0 540.3h0M160.4 539.9h0M163.3 547.3h0M159.3 542.1h0M164.7 544.4h0M160.8 537.5h0M161.5 541.4h0M164.0 540.5h0M161.2 544.8h0M164.9 541.2h0M160.9 543.9h0M160.8 545.0h0M160.4 537.8h0M164.4 541.6h0M162.2 543.0h0M165.7 546.1h0M157.6 544.1h0M161.7 542.5h0M165.1 542.0h0M161.8 547.7h0M161.4 542.9h0M162.1 546.9h0M163.6 545.9h0M161.1 537.5h0M163.7 543.6h0M164.5 546.2h0M158.5 539.6h0M164.3 543.8h0M157.9 545.2h0M163.9 542.8h0M178.3 540.0h0M176.9 539.4h0M175.8 537.0h0M176.5 536.9h0M186.0 539.8h0M179.9 538.5h0M186.2 542.1h0M174.5 535.0h0M180.4 538.1h0M179.1 539.1h0M181.2 538.0h0M187.1 539.8h0M180.3 538.4h0M180.9 537.6h0M185.0 540.1h0M187.1 539.8h0M185.0 539.2h0M182.8 540.9h0M176.2 536.5h0M172.8 535.4h0M184.7 543.5h0M178.3 540.8h0M176.1 536.7h0M181.2 537.5h0M177.6 540.6h0M174.9 539.7h0M183.7 538.6h0M187.4 539.5h0M176.1 537.8h0M184.1 539.2h0M181.5 539.6h0M172.5 535.8h0M176.8 538.8h0M176.2 535.2h0M180.7 542.0h0M181.4 538.9h0M177.2 538.1h0M186.3 539.1h0M173.6 535.4h0M179.7 539.6h0M173.1 538.9h0M179.9 538.0h0M174.5 538.3h0M174.6 535.7h0M179.5 542.0h0M181.0 541.0h0M173.7 537.0h0M180.1 537.3h0M181.4 541.9h0M175.3 540.2h0M181.8 541.1h0M185.2 538.9h0M177.0 535.8h0M174.5 536.6h0M179.4 539.2h0M184.6 543.1h0M184.2 540.5h0M185.8 542.0h0M177.1 536.0h0M187.9 540.9h0M185.5 543.4h0M186.8 541.6h0M185.6 542.1h0M181.3 538.6h0M185.4 542.0h0M187.8 539.6h0M187.9 542.0h0M175.1 536.4h0M179.0 536.7h0M183.0 541.2h0M184.9 541.0h0M187.5 542.3h0M182.4 542.4h0M176.9 540.2h0M185.6 542.0h0M181.6 538.8h0M176.9 536.5h0M172.5 537.1h0M183.3 538.7h0M182.6 542.2h0M174.2 537.1h0M181.7 543.0h0M177.9 539.2h0M187.7 539.3h0M179.0 542.2h0M175.4 537.8h0M186.1 539.4h0M186.6 540.8h0M177.3 540.8h0M182.1 538.1h0M298.5 501.8h0M302.0 499.9h0M296.9 503.0h0M306.6 502.7h0M294.2 493.2h0M290.2 500.4h0M299.7 491.7h0M301.1 495.5h0M303.8 495.7h0M299.0 497.7h0M308.5 501.4h0M304.7 501.8h0M295.4 506.4h0M302.6 502.1h0M293.1 493.6h0M299.7 504.2h0M304.5 496.6h0M290.1 499.3h0M303.2 493.7h0M293.9 491.9h0M293.5 497.1h0M291.1 496.0h0M294.1 498.0h0M295.7 497.2h0M291.5 505.5h0M296.9 504.4h0M301.0 503.5h0M293.9 493.4h0M299.3 501.7h0M303.6 495.4h0M295.0 505.7h0M298.6 495.6h0M300.9 495.2h0M305.2 500.1h0M294.8 506.0h0M292.8 494.9h0M288.5 499.8h0M303.6 501.8h0M301.2 506.5h0M300.9 502.1h0M307.7 502.9h0M294.5 497.3h0M304.7 496.6h0M291.1 504.9h0M298.7 499.3h0M301.7 505.4h0M288.5 497.6h0M298.0 504.6h0M301.7 500.2h0M295.9 500.2h0M293.0 504.5h0M290.3 501.7h0M303.6 499.0h0M306.8 505.4h0M301.3 505.1h0M289.9 502.3h0M302.5 500.8h0M293.1 492.1h0M300.3 504.2h0M293.0 494.4h0M291.9 492.5h0M301.9 506.6h0M304.6 496.8h0M302.4 492.2h0M305.4 496.2h0M288.3 498.1h0M299.2 503.9h0M294.3 500.1h0M291.8 503.7h0M291.6 504.4h0M304.8 499.6h0M287.6 499.1h0M296.3 492.0h0M300.9 502.6h0M299.9 497.4h0M298.3 500.4h0M292.0 504.9h0M297.5 493.1h0M297.0 501.9h0M294.5 494.0h0M295.9 495.5h0M291.3 502.8h0M298.4 498.0h0M291.3 502.3h0M291.3 495.2h0M299.3 502.2h0M308.4 503.0h0M307.9 505.7h0M302.9 502.5h0M302.9 501.1h0M292.8 496.7h0M290.6 501.1h0M294.8 505.4h0M304.7 498.3h0M290.4 503.4h0M297.5 504.2h0M289.8 492.7h0M299.4 499.1h0M291.6 495.0h0M291.7 500.4h0M305.3 503.6h0M297.2 491.7h0M300.7 505.2h0M297.7 501.2h0M291.5 494.9h0M306.9 497.1h0M289.3 500.5h0M297.0 500.4h0M301.0 502.3h0M296.7 492.1h0M302.9 491.9h0M297.4 497.4h0M301.8 502.4h0M292.3 501.4h0M290.1 505.5h0M300.2 492.0h0M292.0 497.3h0M300.9 502.9h0M292.3 505.9h0M291.8 501.8h0M307.5 501.2h0M303.7 492.7h0M308.4 502.4h0M291.1 503.9h0M290.6 499.2h0M289.3 503.6h0M306.6 505.7h0M299.2 504.1h0M298.1 500.9h0M300.1 503.8h0M299.0 495.7h0M305.3 504.0h0M297.1 493.0h0M301.3 494.3h0M296.4 492.8h0M294.8 492.5h0M295.1 495.8h0M303.8 493.4h0M300.3 506.7h0M302.2 500.6h0M298.4 498.3h0M296.0 500.8h0M301.3 505.7h0M303.1 503.7h0M302.0 504.6h0M296.5 505.1h0M291.0 506.1h0M296.7 502.3h0M292.6 495.8h0M294.7 496.2h0M289.1 498.1h0M308.6 501.5h0M303.6 495.4h0M292.5 497.6h0M306.5 505.7h0M294.2 503.3h0M304.5 499.5h0M289.3 504.2h0M293.9 501.0h0M295.1 499.6h0M298.7 501.4h0M298.8 506.0h0M296.0 505.6h0M293.3 505.5h0M290.9 498.0h0M302.1 502.1h0M303.4 503.1h0M292.5 495.1h0M291.6 495.2h0M308.2 501.3h0M300.0 501.5h0M300.2 502.1h0M293.7 492.0h0M295.0 493.3h0M289.5 498.9h0M308.3 502.0h0M293.0 503.3h0M290.9 492.6h0M293.7 497.5h0M303.0 492.5h0M307.5 496.5h0M305.2 494.6h0M305.8 503.8h0M301.8 495.4h0M301.5 500.4h0M301.5 493.9h0M290.2 492.6h0M301.3 500.1h0M291.9 492.0h0M295.0 502.6h0M290.0 503.6h0M292.5 496.9h0M298.5 492.8h0M292.5 503.7h0M293.3 497.1h0M303.8 494.6h0M291.3 494.5h0M295.5 496.8h0M301.1 498.5h0M301.6 504.4h0M296.6 492.9h0M297.1 502.4h0M297.5 493.8h0M292.1 498.0h0M294.9 498.5h0M303.4 500.0h0M292.3 493.7h0M306.0 494.4h0M303.1 492.2h0M297.0 496.1h0M291.5 501.6h0M294.9 492.9h0M301.4 499.2h0M287.5 498.5h0M303.3 499.6h0M292.1 499.0h0M300.3 501.4h0M290.2 503.9h0M307.8 502.8h0M305.9 496.9h0M292.0 500.6h0M296.7 493.2h0M291.2 503.0h0M296.7 540.8h0M291.9 531.1h0M287.3 523.7h0M297.8 514.0h0M303.5 513.5h0M289.7 521.1h0M290.3 530.7h0M288.0 522.8h0M284.7 514.9h0M285.0 511.1h0M295.1 527.5h0M304.9 508.1h0M296.8 522.7h0M298.9 537.8h0M306.8 516.0h0M306.4 521.1h0M307.1 538.2h0M292.3 525.6h0M303.9 535.9h0M298.6 525.0h0M284.1 515.0h0M298.8 527.7h0M302.6 539.3h0M307.0 513.1h0M299.7 515.5h0M287.4 519.6h0M295.1 531.1h0M297.9 523.5h0M299.1 535.6h0M299.3 532.2h0M298.5 512.7h0M287.3 521.9h0M306.9 513.7h0M305.3 514.6h0M300.9 519.3h0M298.9 534.4h0M284.4 514.2h0M286.8 515.8h0M292.0 521.6h0M290.6 532.1h0M292.8 512.5h0M294.0 506.7h0M299.3 512.0h0M301.7 536.9h0M298.3 529.5h0M300.0 541.8h0M289.1 515.5h0M303.2 528.2h0M303.9 538.4h0M296.9 513.3h0M300.6 516.1h0M288.2 532.3h0M307.2 511.5h0M290.1 525.3h0M289.6 521.4h0M293.9 515.6h0M285.4 509.4h0M300.7 518.6h0M306.1 526.7h0M282.4 511.7h0M299.7 520.3h0M300.4 514.5h0M302.5 535.7h0M302.7 535.3h0M287.2 509.5h0M298.9 526.9h0M284.7 513.1h0M296.7 510.0h0M298.1 514.9h0M288.0 521.7h0M295.4 532.8h0M287.0 516.8h0M297.6 539.4h0M286.5 517.5h0M298.9 515.6h0M285.2 514.4h0M301.8 536.6h0M300.3 541.5h0M289.5 532.7h0M283.4 507.8h0M294.9 511.6h0M306.2 538.5h0M295.1 519.4h0M300.3 525.6h0M301.9 509.9h0M282.9 520.3h0M294.1 515.3h0M299.1 514.2h0M289.6 523.6h0M300.2 534.5h0M291.0 522.5h0M297.7 509.9h0M293.3 529.6h0M288.5 507.4h0M297.7 517.1h0M301.8 522.2h0M283.3 520.6h0M282.4 516.7h0M301.7 511.0h0M283.9 508.6h0M285.4 525.7h0M303.5 512.3h0M292.5 518.5h0M284.3 515.0h0M305.1 539.5h0M297.3 516.7h0M293.6 532.5h0M300.8 510.8h0M290.1 515.2h0M287.9 523.4h0M290.2 512.9h0M292.3 536.4h0M304.3 527.3h0M297.4 539.3h0M306.7 518.1h0M303.9 536.3h0M288.2 519.5h0M291.1 519.1h0M291.2 510.1h0M292.1 529.5h0M305.0 534.0h0M300.7 533.9h0M298.7 520.1h0M303.7 510.9h0M295.6 518.4h0M303.2 518.8h0M303.8 537.4h0M304.7 511.1h0M299.3 530.1h0M295.8 522.9h0M290.2 535.0h0M302.1 538.2h0M287.7 509.7h0M289.8 507.0h0M302.5 514.4h0M282.9 508.5h0M301.0 513.3h0M293.5 520.9h0M302.7 541.3h0M289.4 529.4h0M305.2 523.4h0M305.3 533.1h0M296.5 509.9h0M296.9 536.7h0M295.0 523.9h0M299.0 513.7h0M290.8 519.4h0M292.7 532.5h0M292.6 509.4h0M295.1 536.4h0M302.3 519.2h0M302.6 514.1h0M292.7 520.1h0M300.2 540.4h0M286.4 517.2h0M289.9 533.1h0M286.0 526.2h0M294.5 530.7h0M302.5 512.8h0M305.6 526.4h0M301.5 538.1h0M286.6 506.9h0M294.6 539.3h0M305.3 541.3h0M294.8 540.5h0M296.1 511.3h0M298.0 535.7h0M292.4 528.3h0M292.3 525.0h0M293.6 509.4h0M300.4 533.7h0M287.4 515.5h0M297.3 539.5h0M286.5 527.7h0M300.5 533.7h0M300.2 532.3h0M306.5 522.4h0M283.3 508.6h0M302.5 531.1h0M290.1 534.4h0M287.6 513.4h0M285.4 521.2h0M297.7 517.2h0M285.4 514.1h0M283.3 513.1h0M289.5 524.7h0M286.0 523.7h0M297.0 511.4h0M285.6 508.7h0M299.9 541.8h0M291.9 519.1h0M292.5 519.0h0M299.6 520.5h0M296.5 506.2h0M303.9 533.0h0M290.6 529.3h0M305.8 520.9h0M292.7 517.0h0M300.8 541.1h0M304.0 535.3h0M295.8 520.9h0M285.9 510.3h0M305.2 535.6h0M281.7 518.0h0M293.9 524.3h0M290.4 525.7h0M293.9 518.3h0M291.5 528.5h0M291.0 520.3h0M295.6 516.2h0M285.0 514.4h0M282.6 515.8h0M300.8 532.6h0M295.9 540.1h0M292.7 513.1h0M301.2 537.8h0M291.4 509.4h0M304.6 533.9h0M297.1 542.1h0M300.1 529.3h0M284.0 512.0h0M285.9 528.5h0M299.2 541.9h0M292.7 520.5h0M287.8 514.6h0M300.1 512.5h0M290.5 533.3h0M299.4 507.2h0M292.9 535.3h0M296.5 522.7h0M304.8 528.2h0M290.1 520.6h0M306.5 537.8h0M305.7 526.8h0M284.8 512.5h0M291.3 531.6h0M292.2 530.8h0M297.6 517.7h0M291.2 516.0h0M305.4 535.3h0M302.3 536.4h0M289.6 534.0h0M288.1 528.6h0M294.2 516.2h0M305.9 509.1h0M296.5 539.6h0M296.8 521.8h0M306.2 509.2h0M302.0 509.8h0M288.5 510.2h0M304.5 522.3h0M300.6 515.5h0M300.7 530.0h0M300.5 513.9h0M298.7 516.3h0M292.5 527.2h0M302.8 534.1h0M293.3 538.0h0M293.8 510.4h0M301.2 511.4h0M299.3 508.0h0M301.0 510.9h0M298.2 519.9h0M305.1 507.3h0M293.5 523.4h0M300.4 533.0h0M303.0 510.4h0M286.0 524.5h0M290.1 512.1h0M306.1 523.5h0M302.2 515.3h0M305.6 514.2h0M305.5 528.7h0M298.0 525.7h0M304.1 522.4h0M302.8 531.2h0M301.1 514.6h0M293.5 536.4h0M296.0 521.0h0M285.5 511.1h0M293.7 524.2h0M288.2 519.6h0M296.0 534.2h0M296.9 512.0h0M304.9 519.6h0M284.8 527.5h0M307.1 520.2h0M295.8 517.6h0M284.3 516.5h0M298.0 526.8h0M298.1 526.1h0M304.3 530.8h0M290.7 528.4h0M294.7 510.4h0M303.6 530.8h0M299.5 540.3h0M307.2 517.6h0M296.3 506.3h0M296.9 536.5h0M294.9 518.0h0M307.1 521.0h0M299.8 508.5h0M290.8 530.5h0M298.6 512.0h0M300.6 526.4h0M285.3 511.5h0M296.9 535.6h0M285.3 524.6h0M296.5 526.7h0M292.1 526.1h0M292.4 514.8h0M301.4 515.0h0M303.2 514.9h0M291.5 518.4h0M301.7 514.2h0M299.1 536.9h0M293.2 524.6h0M305.9 528.3h0M285.9 508.6h0M283.2 518.3h0M292.4 517.4h0M294.8 540.7h0M305.6 532.1h0M292.6 512.1h0M303.9 530.0h0M290.1 509.8h0M301.0 532.5h0M299.1 522.0h0M298.9 509.4h0M287.0 520.7h0M286.4 509.2h0M290.0 515.8h0M299.1 514.2h0M291.8 531.5h0M292.6 511.8h0M299.1 524.3h0M306.2 536.1h0M293.8 511.2h0M294.1 510.7h0M299.5 531.8h0M296.6 542.1h0M302.6 510.2h0M289.7 508.0h0M290.4 531.7h0M290.9 532.4h0M304.3 529.6h0M300.4 510.3h0M291.3 530.8h0M304.4 527.8h0M286.3 525.2h0M294.0 518.5h0M291.1 524.9h0M296.9 514.2h0M288.5 524.6h0M294.6 521.5h0M298.9 512.9h0M295.4 516.2h0M301.8 532.0h0M294.8 519.9h0M288.8 520.9h0M300.1 536.3h0M294.0 533.1h0M286.7 522.7h0M290.7 517.3h0M290.7 533.9h0M300.8 513.7h0M288.4 508.3h0M290.7 507.2h0M299.1 541.8h0M302.7 514.5h0M290.1 510.0h0M302.5 533.3h0M294.2 519.7h0M288.3 524.0h0M300.2 539.1h0M303.9 538.1h0M292.9 521.6h0M304.0 518.3h0M304.0 539.0h0M292.5 513.1h0M301.9 519.9h0M292.9 520.7h0M297.1 515.4h0M291.2 506.4h0M291.0 534.2h0M290.0 531.1h0M297.9 513.0h0M297.5 516.9h0M305.6 514.6h0M296.8 527.3h0M289.7 507.3h0M289.8 529.8h0M297.3 524.9h0M284.3 513.9h0M289.4 521.4h0M287.6 527.7h0M291.2 507.4h0M302.5 536.0h0M282.5 520.1h0M287.2 529.1h0M302.0 537.2h0M295.8 520.3h0M302.6 509.9h0M283.5 509.4h0M291.0 522.0h0M294.7 516.7h0M300.0 525.1h0M307.5 512.3h0M294.8 524.3h0M290.7 518.4h0M297.6 526.8h0M288.7 509.1h0M306.8 519.7h0M295.4 518.1h0M290.1 521.4h0M306.8 519.4h0M291.9 512.0h0M293.1 521.0h0M293.3 536.8h0M291.1 533.1h0M281.8 514.1h0M299.2 524.4h0M299.7 515.6h0M298.4 511.0h0M297.6 512.4h0M294.8 517.6h0M295.9 511.0h0M294.1 528.8h0M284.6 517.4h0M299.3 526.2h0M297.7 534.9h0M292.9 536.7h0M296.3 533.9h0M290.8 522.6h0M307.2 536.4h0M298.6 509.9h0M297.5 507.2h0M300.7 515.9h0M303.8 512.6h0M292.9 536.7h0M299.6 525.7h0M304.3 513.5h0M305.3 518.5h0M281.7 518.5h0M282.8 508.7h0M297.9 510.5h0M285.3 516.8h0M305.4 538.2h0M306.0 536.0h0M300.8 514.4h0M295.9 528.7h0M304.3 511.3h0M299.9 523.2h0M302.2 522.9h0M288.6 533.6h0M303.4 515.2h0M299.8 520.7h0M287.1 514.0h0M306.8 519.6h0M294.8 524.5h0M301.1 538.4h0M290.6 513.8h0M290.4 533.1h0M298.8 521.0h0M295.2 511.7h0M305.8 523.5h0M294.7 535.1h0M290.5 536.1h0M283.5 516.2h0M298.2 523.8h0M291.2 527.4h0M286.9 522.2h0M295.9 528.3h0M297.9 510.6h0M304.3 535.1h0M299.3 536.2h0M292.8 530.9h0M306.7 513.0h0M283.7 521.2h0M294.8 511.5h0M291.5 511.5h0M285.9 527.4h0M286.1 523.6h0M295.5 522.3h0M294.6 537.0h0M286.4 507.4h0M301.7 527.1h0M300.6 514.4h0M291.0 523.8h0M299.7 511.7h0M295.9 533.1h0M304.5 507.9h0M287.7 509.1h0M287.8 509.2h0M294.2 515.3h0M289.1 523.1h0M291.0 535.2h0M300.5 510.2h0M289.9 510.0h0M299.8 534.9h0M291.6 517.6h0M294.8 522.3h0M292.8 534.4h0M285.8 521.0h0M305.1 521.1h0M298.8 526.7h0M293.5 527.3h0M287.6 526.6h0M304.3 509.0h0M297.9 529.4h0M303.8 523.4h0M284.5 517.1h0M300.2 532.9h0M286.5 529.8h0M289.8 528.1h0M290.1 510.7h0M299.1 516.6h0M295.7 535.9h0M291.0 512.6h0M291.7 524.5h0M292.2 510.5h0M295.1 517.1h0M307.1 520.2h0M292.8 514.4h0M307.2 517.9h0M298.4 536.8h0M291.6 533.9h0M288.5 510.1h0M304.6 513.5h0M292.9 534.2h0M295.0 521.7h0M306.3 539.2h0M287.4 526.8h0M292.2 507.3h0M289.2 527.7h0M300.2 508.3h0M306.0 510.0h0M289.1 532.5h0M287.0 509.0h0M283.4 513.2h0M295.0 511.1h0M303.2 521.4h0M287.8 514.9h0M303.7 507.7h0M301.0 509.6h0M306.5 521.1h0M297.1 537.9h0M283.7 508.4h0M299.7 527.7h0M300.5 516.3h0M292.8 516.4h0M296.8 517.1h0M288.4 529.8h0M294.6 532.6h0M291.1 521.3h0M305.1 516.1h0M297.5 513.5h0M302.9 526.6h0M285.7 515.6h0M297.6 513.2h0M293.5 532.4h0M282.2 513.1h0M306.9 520.5h0M292.5 519.9h0M299.8 533.4h0M298.6 520.9h0M296.4 525.1h0M303.7 514.9h0M301.1 532.5h0M306.3 536.8h0M304.7 515.9h0M302.3 523.6h0M289.4 519.6h0M302.6 537.2h0M303.8 530.8h0M285.6 511.8h0M290.1 509.8h0M291.7 506.4h0M292.8 520.1h0M306.9 514.5h0M287.8 506.9h0M296.7 524.6h0M307.2 519.8h0M302.9 531.7h0M295.8 536.1h0M285.2 526.0h0M288.2 520.8h0M296.5 534.8h0M298.0 528.2h0M305.9 536.1h0M296.3 518.1h0M306.1 519.7h0M283.8 518.3h0M300.1 540.5h0M293.0 523.1h0M302.8 515.2h0M299.5 539.0h0M284.4 511.0h0M294.3 518.4h0M293.0 535.3h0M298.1 512.4h0M307.2 512.5h0M292.2 537.4h0M302.1 527.7h0M282.4 522.0h0M280.2 530.1h0M285.1 543.7h0M283.5 507.5h0M281.0 516.9h0M283.0 521.3h0M282.4 522.4h0M277.3 534.8h0M277.5 529.8h0M286.7 541.0h0M279.2 528.9h0M280.9 518.2h0M280.3 527.6h0M282.0 528.0h0M285.4 543.8h0M285.2 543.0h0M276.2 519.2h0M279.1 521.5h0M282.9 530.0h0M280.2 529.3h0M288.4 536.6h0M282.7 521.7h0M280.5 537.5h0M278.3 528.2h0M286.1 542.5h0M276.2 517.3h0M282.4 542.6h0M278.1 539.0h0M281.2 527.8h0M280.3 512.9h0M277.7 518.5h0M282.6 512.4h0M286.8 542.0h0M280.1 533.0h0M284.9 539.3h0M283.4 517.5h0M279.3 527.6h0M285.1 532.6h0M277.6 536.6h0M277.3 517.7h0M277.4 520.3h0M277.2 532.4h0M277.1 516.4h0M284.6 540.2h0M281.3 524.1h0M276.4 519.9h0M279.1 537.0h0M277.7 521.6h0M279.8 517.7h0M280.2 517.7h0M282.2 521.4h0M281.8 528.5h0M279.4 510.9h0M282.5 536.2h0M278.0 523.4h0M277.6 531.2h0M285.6 542.1h0M282.7 517.9h0M281.8 524.8h0M287.0 538.1h0M278.8 535.6h0M282.1 522.6h0M278.6 537.4h0M280.9 522.8h0M283.5 540.8h0M280.8 511.1h0M276.9 526.7h0M280.6 522.9h0M281.5 516.5h0M280.1 525.8h0M283.3 514.9h0M276.7 513.0h0M280.5 536.7h0M283.0 527.3h0M276.9 528.0h0M276.6 525.5h0M281.8 515.9h0M278.4 513.9h0M283.3 514.2h0M282.9 531.3h0M277.3 519.7h0M279.0 539.0h0M276.2 523.9h0M287.3 536.7h0M279.9 534.5h0M280.5 535.9h0M283.1 521.8h0M278.7 536.8h0M283.2 535.7h0M282.4 508.4h0M279.4 532.3h0M281.8 534.8h0M283.0 529.7h0M280.0 520.0h0M277.2 520.2h0M278.2 534.8h0M277.5 535.5h0M307.9 508.4h0M308.5 523.0h0M308.6 535.9h0M312.6 514.9h0M311.5 529.3h0M310.4 513.9h0M312.7 538.5h0M307.1 516.6h0M308.9 511.9h0M309.6 536.4h0M308.9 505.5h0M312.4 514.5h0M308.3 509.1h0M309.2 509.2h0M308.1 513.8h0M310.5 520.6h0M308.8 523.4h0M311.6 530.3h0M309.1 537.1h0M311.7 524.7h0M309.9 516.5h0M310.6 508.5h0M312.6 536.0h0M307.2 529.5h0M308.4 523.7h0M312.0 517.3h0M310.0 528.3h0M308.2 526.9h0M309.6 539.4h0M308.1 529.9h0M307.2 514.6h0M307.7 510.2h0M310.2 511.1h0M311.8 508.4h0M310.7 535.1h0M307.8 512.6h0M311.6 521.5h0M312.6 516.8h0M309.4 538.5h0M309.1 538.8h0M312.3 512.0h0M310.3 537.9h0M288.6 542.2h0M286.0 532.5h0M291.4 532.5h0M288.8 541.8h0M281.8 541.3h0M283.2 542.3h0M282.8 543.0h0M284.1 543.2h0M277.4 538.3h0M287.2 537.4h0M291.6 545.2h0M291.4 532.2h0M287.6 541.9h0M286.1 531.2h0M290.9 537.6h0M285.9 543.2h0M281.1 531.4h0M290.9 535.1h0M291.9 542.1h0M280.1 533.2h0M290.5 541.0h0M330.8 508.1h0M325.1 546.0h0M312.4 534.3h0M327.8 524.8h0M315.9 525.8h0M340.8 521.5h0M320.0 513.1h0M326.6 532.1h0M330.4 543.4h0M328.4 525.8h0M311.6 517.3h0M325.2 503.6h0M342.3 524.5h0M335.8 537.3h0M321.3 535.9h0M318.0 527.8h0M331.2 538.1h0M316.7 518.0h0M318.1 507.0h0M335.6 536.7h0M333.0 538.2h0M328.5 528.1h0M333.3 529.4h0M330.5 508.0h0M325.5 521.6h0M325.7 528.1h0M323.3 520.2h0M325.5 519.3h0M311.6 535.5h0M324.4 522.9h0M331.1 519.1h0M319.1 502.7h0M320.7 523.6h0M322.0 504.7h0M319.2 513.8h0M334.7 539.0h0M327.0 520.0h0M318.9 539.1h0M314.9 529.6h0M326.6 508.7h0M313.1 536.0h0M313.3 539.6h0M333.6 524.0h0M332.0 506.6h0M319.5 545.2h0M318.8 517.9h0M325.9 539.8h0M317.2 535.5h0M322.2 545.9h0M331.6 507.2h0M325.0 531.0h0M332.7 517.9h0M312.2 507.8h0M330.1 510.0h0M321.4 530.8h0M319.7 529.2h0M320.4 538.4h0M316.3 514.2h0M325.9 544.2h0M316.6 510.9h0M315.5 511.9h0M322.3 520.4h0M336.8 520.8h0M327.2 520.4h0M325.5 544.8h0M319.5 547.5h0M328.9 533.7h0M324.0 514.6h0M315.6 543.2h0M323.2 534.5h0M326.7 526.5h0M318.0 510.2h0M322.4 533.7h0M329.5 502.1h0M335.2 522.1h0M313.3 514.1h0M318.2 540.3h0M319.5 515.5h0M320.5 518.1h0M337.9 538.7h0M334.7 543.1h0M333.2 507.3h0M312.5 509.6h0M319.8 526.6h0M338.9 529.2h0M325.6 513.3h0M322.6 504.1h0M333.2 518.6h0M314.4 511.2h0M332.9 533.7h0M320.6 514.7h0M312.5 530.5h0M322.9 510.7h0M325.8 545.3h0M319.4 509.7h0M332.4 532.6h0M328.4 510.4h0M316.9 513.2h0M328.5 524.2h0M341.4 523.8h0M312.4 540.6h0M311.6 516.8h0M315.9 530.0h0M321.0 541.6h0M334.4 507.0h0M334.3 538.9h0M324.9 509.2h0M333.4 516.8h0M315.5 509.7h0M324.7 507.9h0M329.8 520.8h0M322.2 545.4h0M337.0 526.9h0M337.8 528.6h0M315.0 513.9h0M314.3 542.7h0M321.9 520.9h0M329.3 506.7h0M335.0 539.0h0M336.9 534.2h0M323.6 518.0h0M316.2 540.7h0M326.7 539.8h0M322.6 516.9h0M334.6 520.8h0M329.9 518.9h0M320.3 543.2h0M338.2 516.2h0M313.9 511.1h0M338.5 526.6h0M329.8 527.1h0M324.9 527.9h0M314.1 544.8h0M314.5 508.5h0M333.9 531.8h0M338.4 534.2h0M311.4 513.0h0M316.3 526.5h0M324.5 524.3h0M320.4 546.7h0M337.6 533.6h0M321.3 536.0h0M327.5 539.1h0M323.4 543.0h0M334.3 523.0h0M330.1 539.4h0M329.0 546.7h0M335.3 524.8h0M322.5 535.2h0M312.5 507.7h0M313.6 528.5h0M321.9 514.1h0M326.2 505.6h0M330.0 522.7h0M321.5 530.0h0M315.2 518.1h0M315.3 521.6h0M318.5 503.1h0M320.3 504.6h0M329.0 516.0h0M333.9 528.1h0M336.0 534.0h0M335.3 523.9h0M326.8 515.3h0M312.4 523.7h0M332.0 510.7h0M327.6 510.2h0M320.2 536.3h0M311.2 518.4h0M322.9 529.8h0M314.8 541.2h0M322.5 544.2h0M322.2 516.2h0M317.0 546.9h0M331.0 540.4h0M313.1 527.2h0M329.2 546.5h0M319.6 503.2h0M330.1 518.8h0M330.6 545.4h0M319.7 540.2h0M311.6 521.4h0M323.5 529.1h0M319.0 534.9h0M333.2 506.4h0M334.7 518.2h0M315.9 505.6h0M326.6 538.9h0M329.1 514.8h0M335.8 533.1h0M339.7 521.0h0M330.0 541.5h0M317.8 541.9h0M330.5 508.8h0M342.3 522.4h0M317.3 521.1h0M319.7 539.6h0M336.6 529.8h0M323.4 502.9h0M325.7 513.0h0M318.1 505.5h0M334.6 507.0h0M318.6 522.4h0M321.7 524.1h0M316.5 520.7h0M334.8 517.1h0M314.5 531.2h0M326.4 544.7h0M314.6 536.7h0M333.8 519.2h0M315.4 530.5h0M336.8 524.0h0M327.1 533.9h0M317.3 523.6h0M329.7 543.7h0M322.2 512.4h0M332.4 536.3h0M319.4 534.1h0M342.9 522.3h0M333.2 542.3h0M317.9 518.1h0M321.4 524.2h0M336.3 531.3h0M312.2 522.1h0M311.9 526.5h0M332.5 511.4h0M340.1 521.2h0M332.1 527.2h0M319.9 538.3h0M311.1 513.6h0M321.9 543.0h0M328.0 503.7h0M321.2 530.3h0M337.5 520.2h0M328.8 521.6h0M325.9 548.1h0M336.0 534.6h0M315.8 503.6h0M339.2 533.3h0M320.1 544.8h0M329.1 502.9h0M322.6 518.2h0M314.8 535.7h0M328.5 512.9h0M322.0 502.1h0M337.2 539.3h0M336.5 512.5h0M322.0 517.9h0M325.8 508.0h0M334.9 526.2h0M337.1 517.7h0M325.1 536.6h0M334.9 543.3h0M321.5 541.4h0M336.1 528.7h0M324.9 528.4h0M313.6 506.5h0M312.7 535.3h0M335.9 530.6h0M318.0 535.6h0M339.1 530.8h0M318.7 528.3h0M324.4 514.5h0M316.1 542.2h0M332.5 545.4h0M316.9 514.3h0M328.3 504.7h0M321.3 527.1h0M327.4 544.3h0M330.6 531.6h0M330.9 538.5h0M323.5 502.0h0M315.3 507.2h0M318.6 532.6h0M327.8 502.3h0M319.8 519.8h0M319.8 513.3h0M322.0 521.3h0M323.2 517.1h0M336.1 524.9h0M311.1 512.8h0M341.6 523.3h0M318.0 540.1h0M328.0 528.1h0M315.0 516.9h0M332.0 533.3h0M332.4 530.8h0M323.9 505.2h0M313.6 537.8h0M316.8 518.1h0M317.8 542.0h0M324.0 545.5h0M319.8 528.7h0M333.9 512.9h0M324.0 506.7h0M315.6 514.9h0M332.8 531.6h0M328.8 541.7h0M336.6 511.8h0M329.2 509.9h0M313.6 518.3h0M314.0 512.2h0M331.1 526.6h0M330.2 530.0h0M313.7 537.9h0M319.2 529.4h0M329.0 517.8h0M325.4 527.1h0M337.2 527.0h0M335.4 531.7h0M336.8 512.1h0M330.3 522.4h0M318.9 538.3h0M318.5 535.0h0M327.6 521.9h0M335.0 535.7h0M333.8 525.0h0M343.0 522.8h0M323.2 503.2h0M327.0 526.8h0M327.5 505.3h0M316.8 522.6h0M329.0 520.1h0M320.6 518.4h0M321.9 536.5h0M327.8 539.0h0M324.6 519.9h0M343.8 522.4h0M330.6 546.8h0M332.8 529.7h0M329.2 529.1h0M313.3 536.6h0M323.7 531.9h0M320.6 544.7h0M323.5 514.8h0M320.2 524.6h0M318.2 539.0h0M313.6 521.3h0M337.6 535.1h0M338.7 523.9h0M341.3 524.2h0M327.9 504.3h0M316.6 542.7h0M330.5 542.1h0M316.1 524.3h0M326.9 507.0h0M320.0 544.9h0M335.6 525.7h0M331.7 542.0h0M312.7 542.5h0M316.6 513.2h0M315.7 525.8h0M330.8 523.4h0M327.0 508.6h0M335.4 527.0h0M321.5 540.8h0M324.2 522.9h0M319.7 536.6h0M328.2 547.0h0M341.2 523.0h0M314.6 523.2h0M328.6 538.5h0M317.3 515.0h0M331.8 506.4h0M336.5 521.7h0M313.6 520.1h0M328.5 527.1h0M314.3 529.0h0M326.2 517.2h0M339.2 534.1h0M315.1 506.9h0M312.8 514.2h0M315.2 538.8h0M336.9 524.0h0M315.0 512.0h0M315.4 530.4h0M332.2 541.9h0M320.0 542.3h0M314.8 538.9h0M331.6 530.5h0M337.2 526.1h0M314.9 512.4h0M333.2 505.7h0M314.6 513.7h0M338.1 527.4h0M323.1 546.8h0M330.8 513.1h0M330.2 541.8h0M323.5 522.2h0M332.7 510.4h0M327.1 535.2h0M321.7 529.9h0M338.9 523.7h0M332.4 515.4h0M319.7 525.7h0M329.1 512.4h0M337.0 525.2h0M323.1 513.8h0M313.4 531.4h0M334.1 517.7h0M326.0 533.8h0M316.4 519.0h0M337.8 533.7h0M330.9 506.8h0M318.4 513.9h0M312.1 531.8h0M330.5 545.0h0M329.9 544.7h0M326.9 526.1h0M320.6 523.6h0M342.9 524.7h0M311.1 518.4h0M317.7 531.0h0M328.3 524.1h0M334.8 529.7h0M333.2 525.3h0M312.2 523.0h0M339.4 530.0h0M312.5 507.8h0M316.6 534.9h0M332.9 539.5h0M314.0 523.6h0M338.6 517.9h0M315.9 542.3h0M313.2 527.9h0M330.6 510.4h0M322.3 508.9h0M326.8 504.1h0M333.3 532.1h0M313.6 542.4h0M329.5 545.5h0M327.7 505.8h0M344.5 527.1h0M341.7 524.9h0M322.1 532.8h0M335.1 523.4h0M320.4 521.5h0M335.3 512.6h0M316.4 524.5h0M333.4 505.1h0M320.2 547.2h0M320.1 537.9h0M327.5 542.4h0M334.9 530.9h0M327.4 532.9h0M328.7 510.5h0M321.5 541.6h0M330.3 525.8h0M335.1 524.9h0M311.8 518.3h0M316.4 541.8h0M320.6 539.4h0M333.1 530.1h0M336.2 514.4h0M339.4 527.2h0M336.7 541.0h0M319.7 521.1h0M323.3 505.6h0M327.7 527.4h0M323.2 533.9h0M329.2 525.1h0M319.8 512.4h0M333.8 517.9h0M328.5 506.9h0M323.2 505.5h0M328.1 546.5h0M336.9 518.9h0M320.4 545.3h0M312.8 541.3h0M324.2 521.8h0M331.7 526.5h0M322.1 502.4h0M337.5 532.1h0M333.3 505.5h0M313.6 543.8h0M323.4 524.0h0M332.6 504.9h0M316.4 537.3h0M335.4 527.5h0M332.4 533.1h0M317.1 517.7h0M322.1 541.9h0M313.1 517.2h0M323.2 520.1h0M326.6 546.5h0M320.4 526.4h0M327.3 508.6h0M316.0 525.6h0M338.2 522.1h0M315.7 543.1h0M312.5 532.2h0M316.0 514.1h0M325.3 537.1h0M325.8 521.5h0M320.5 546.3h0M317.5 508.2h0M329.7 518.3h0M334.0 518.9h0M325.7 516.8h0M329.1 515.1h0M335.1 515.6h0M326.5 527.9h0M335.4 532.3h0M325.6 506.0h0M314.8 508.8h0M317.3 510.5h0M333.5 517.8h0M319.4 510.5h0M315.9 533.7h0M330.7 513.7h0M338.6 533.4h0M325.6 530.3h0M314.1 519.0h0M332.7 506.1h0M337.3 542.2h0M323.7 519.3h0M328.4 513.7h0M318.1 508.0h0M334.4 525.7h0M325.4 508.8h0M329.6 514.8h0M315.1 542.5h0M330.5 542.7h0M321.0 528.8h0M320.4 540.6h0M313.7 524.6h0M328.8 540.0h0M317.9 510.6h0M321.4 539.3h0M335.1 525.1h0M314.8 524.0h0M329.9 521.5h0M328.2 504.0h0M341.0 529.0h0M322.8 515.2h0M317.4 545.4h0M331.5 527.7h0M317.8 503.5h0M330.2 502.8h0M311.7 509.6h0M333.2 530.5h0M328.8 502.6h0M343.6 524.7h0M339.4 524.1h0M313.6 529.0h0M318.4 534.6h0M316.9 534.1h0M332.0 535.1h0M337.0 529.9h0M319.9 544.2h0M322.5 540.2h0M334.1 541.0h0M338.3 523.1h0M324.4 539.0h0M333.3 527.1h0M314.3 541.2h0M314.0 543.0h0M336.6 533.5h0M325.0 529.7h0M329.8 546.1h0M328.3 527.1h0M326.7 521.1h0M334.5 507.2h0M334.5 545.2h0M336.9 527.2h0M323.0 506.5h0M314.1 527.1h0M317.2 536.8h0M338.4 524.3h0M335.7 522.9h0M321.3 542.3h0M324.3 521.5h0M318.6 524.5h0M335.0 518.8h0M333.5 524.9h0M320.8 527.4h0M313.2 511.6h0M316.2 541.6h0M328.6 504.0h0M320.2 525.8h0M316.9 516.2h0M341.8 522.7h0M318.9 529.8h0M314.8 526.2h0M333.0 506.1h0M336.3 530.6h0M317.2 510.6h0M334.9 539.7h0M313.1 521.4h0M320.6 523.7h0M336.3 537.6h0M320.4 530.8h0M323.8 524.1h0M329.0 533.0h0M316.7 541.0h0M316.5 516.6h0M323.5 546.3h0M317.8 503.6h0M315.2 518.6h0M313.9 523.9h0M322.8 536.3h0M327.8 546.9h0M330.2 526.5h0M316.8 516.9h0M318.5 511.1h0M337.1 528.7h0M339.8 525.6h0M332.5 513.1h0M334.7 520.9h0M335.5 529.2h0M315.8 516.0h0M332.5 527.4h0M335.3 517.3h0M327.2 524.2h0M328.3 514.1h0M331.0 514.1h0M318.0 512.8h0M320.1 527.8h0M332.5 507.2h0M328.6 525.0h0M333.8 515.5h0M313.5 540.1h0M335.2 542.0h0M338.3 533.9h0M326.8 543.9h0M336.0 533.2h0M328.3 512.0h0M319.9 541.3h0M334.4 525.7h0M330.5 533.0h0M326.9 505.6h0M319.7 540.3h0M312.1 539.1h0M319.7 545.3h0M323.6 522.9h0M343.3 527.3h0M334.1 507.1h0M311.2 514.3h0M314.6 540.3h0M319.5 546.5h0M334.1 510.9h0M335.2 516.8h0M328.9 505.5h0M330.8 534.1h0M322.6 507.9h0M322.1 536.4h0M330.1 508.3h0M319.2 524.1h0M326.3 508.2h0M336.5 539.0h0M321.7 527.2h0M324.2 547.4h0M319.8 546.4h0M321.5 521.6h0M321.7 532.3h0M335.6 525.5h0M331.3 538.5h0M337.4 533.3h0M313.1 524.2h0M320.1 530.3h0M324.5 523.2h0M329.3 529.4h0M320.3 510.6h0M314.8 541.5h0M323.2 544.0h0M313.3 513.6h0M328.1 502.7h0M319.6 524.0h0M334.2 509.2h0M315.2 517.4h0M314.1 507.7h0M314.5 539.2h0M333.1 515.9h0M318.5 544.6h0M314.2 532.1h0M316.0 533.0h0M333.9 512.8h0M327.2 511.9h0M334.5 530.9h0M313.1 543.2h0M337.5 525.9h0M331.1 524.9h0M336.7 526.8h0M320.4 526.0h0M328.7 542.5h0M335.5 511.7h0M328.3 529.1h0M330.7 523.4h0M328.3 534.0h0M337.7 533.6h0M315.1 514.0h0M321.7 518.5h0M327.7 515.7h0M323.6 534.5h0M332.4 546.6h0M323.8 542.8h0M338.3 516.9h0M315.9 539.5h0M325.1 518.3h0M326.8 535.9h0M337.1 510.2h0M323.6 502.3h0M317.8 517.8h0M317.0 524.1h0M315.5 532.4h0M325.0 513.5h0M334.3 517.3h0M336.6 542.8h0M321.0 514.3h0M329.6 504.4h0M320.6 521.7h0M331.1 505.6h0M338.6 536.8h0M317.1 513.2h0M312.3 527.6h0M313.8 510.8h0M316.9 544.8h0M315.8 519.7h0M337.8 527.3h0M338.1 517.6h0M335.6 525.6h0M337.0 511.2h0M320.5 511.8h0M316.3 535.7h0M312.3 523.7h0M319.7 537.6h0M335.4 533.8h0M317.7 504.0h0M332.8 534.3h0M328.6 532.3h0M327.7 503.5h0M329.6 521.2h0M322.4 520.3h0M318.5 516.5h0M336.4 543.2h0M326.5 541.3h0M315.3 526.0h0M336.3 538.3h0M324.2 509.8h0M333.2 518.1h0M314.8 528.5h0M324.8 543.4h0M333.6 537.1h0M330.7 529.8h0M317.4 506.2h0M335.0 535.8h0M333.7 513.8h0M327.6 537.7h0M332.8 544.3h0M314.0 538.0h0M329.2 505.4h0M325.2 533.1h0M328.3 539.0h0M315.0 543.5h0M318.1 508.8h0M318.5 521.5h0M335.0 545.6h0M330.0 546.3h0M325.5 532.6h0M321.2 526.5h0M328.9 503.4h0M314.8 533.5h0M324.8 506.3h0M317.1 505.5h0M329.7 546.7h0M329.3 518.6h0M331.5 513.9h0M325.8 526.5h0M323.9 528.2h0M314.1 521.6h0M338.6 536.2h0M324.0 535.1h0M317.8 530.7h0M311.5 511.0h0M317.0 518.4h0M331.9 541.1h0M343.0 522.8h0M337.5 532.1h0M313.8 526.3h0M331.6 534.0h0M317.1 528.4h0M325.2 523.7h0M315.2 505.5h0M320.5 510.1h0M335.2 522.9h0M319.3 528.2h0M321.6 540.5h0M312.5 531.6h0M322.5 521.5h0M328.9 528.2h0M317.7 538.7h0M327.5 537.4h0M334.6 527.5h0M315.5 523.3h0M313.1 510.4h0M315.6 522.2h0M313.0 530.2h0M318.8 512.1h0M332.7 545.0h0M311.5 535.2h0M330.8 524.6h0M325.3 502.5h0M322.6 541.3h0M327.7 525.2h0M318.6 502.6h0M327.7 523.1h0M314.6 537.0h0M328.6 509.8h0M317.5 524.2h0M320.1 538.8h0M322.4 545.2h0M311.6 513.1h0M321.5 541.4h0M314.5 533.3h0M327.4 512.1h0M315.1 513.3h0M336.0 528.7h0M315.4 515.3h0M336.6 524.0h0M318.0 513.8h0M317.5 531.2h0M331.2 526.1h0M337.3 526.6h0M321.7 533.1h0M327.5 508.5h0M336.4 522.1h0M339.5 533.1h0M331.3 547.3h0M338.3 517.7h0M314.5 544.9h0M336.4 529.7h0M318.6 505.7h0M336.3 523.0h0M315.2 528.0h0M320.0 514.2h0M336.4 540.0h0M325.8 523.0h0M337.5 543.1h0M321.1 535.1h0M334.3 538.1h0M335.4 516.9h0M336.8 541.2h0M315.8 544.4h0M325.8 514.8h0M328.9 515.7h0M313.0 531.3h0M335.4 534.3h0M324.5 541.9h0M328.8 512.6h0M328.9 502.2h0M333.3 525.6h0M329.3 541.1h0M332.8 545.8h0M334.2 544.6h0M315.0 540.2h0M321.9 544.8h0M336.7 520.2h0M328.8 538.4h0M313.0 527.1h0M322.6 530.2h0M336.0 519.7h0M334.2 544.0h0M327.5 541.0h0M320.2 515.3h0M324.3 532.3h0M325.0 503.3h0M324.1 528.6h0M331.0 523.3h0M312.0 513.5h0M322.5 532.2h0M316.9 524.6h0M320.2 528.3h0M334.4 526.1h0M336.5 531.0h0M313.8 532.5h0M327.4 537.3h0M339.0 522.7h0M326.5 525.1h0M323.7 512.7h0M334.5 531.2h0M312.9 514.6h0M321.0 528.9h0M323.7 546.1h0M318.6 510.0h0M326.1 515.2h0M333.9 543.2h0M314.8 516.4h0M315.6 522.1h0M323.4 535.8h0M325.3 531.9h0M315.5 530.4h0M315.8 509.7h0M336.1 539.0h0M321.9 502.1h0M332.1 519.0h0M322.2 539.8h0M325.5 522.6h0M321.6 535.7h0M344.4 523.8h0M340.1 520.6h0M325.4 539.3h0M335.0 540.5h0M329.1 520.0h0M323.1 502.0h0M323.2 538.4h0M333.9 533.3h0M327.6 506.2h0M327.2 528.1h0M338.3 525.0h0M327.2 524.5h0M336.0 536.2h0M322.4 538.1h0M323.8 533.3h0M323.8 543.8h0M324.0 518.3h0M325.7 530.1h0M312.1 527.4h0M341.3 528.6h0M335.4 537.0h0M325.3 507.5h0M335.5 512.1h0M328.0 525.9h0M326.6 547.6h0M337.2 519.7h0M331.3 528.2h0M336.2 516.0h0M334.0 519.2h0M337.6 525.0h0M320.5 502.2h0M333.0 540.6h0M335.7 540.7h0M323.3 521.5h0M323.5 517.9h0M325.0 541.4h0M337.9 528.0h0M332.8 515.9h0M337.0 542.6h0M318.4 513.7h0M326.2 531.8h0M323.1 528.7h0M317.3 527.2h0M322.1 514.2h0M336.2 518.8h0M336.2 536.9h0M323.8 503.5h0M339.7 527.6h0M330.7 533.9h0M329.7 544.2h0M330.5 540.6h0M315.5 541.3h0M321.6 513.7h0M320.1 526.6h0M320.8 519.3h0M332.8 518.5h0M333.8 509.0h0M312.5 529.0h0M312.6 533.1h0M324.9 504.6h0M314.0 518.4h0M336.6 531.6h0M330.9 525.8h0M333.3 525.1h0M324.5 540.9h0M321.2 520.9h0M322.7 522.1h0M324.7 511.8h0M323.1 538.7h0M317.4 524.2h0M320.7 528.9h0M327.5 510.7h0M333.0 533.5h0M318.5 512.7h0M321.3 517.3h0M337.9 520.3h0M326.5 511.4h0M326.6 546.2h0M314.1 520.3h0M317.6 541.3h0M321.2 524.7h0M312.8 534.1h0M328.5 539.2h0M335.5 536.6h0M319.9 513.7h0M331.3 504.3h0M313.6 527.8h0M314.4 533.9h0M327.0 538.8h0M325.0 547.7h0M329.2 529.3h0M326.3 540.0h0M335.0 540.1h0M319.6 525.5h0M329.5 529.1h0M326.2 509.4h0M336.2 536.4h0M332.2 544.5h0M312.9 517.5h0M316.6 531.6h0M318.5 503.3h0M315.6 510.1h0M329.4 523.2h0M326.8 502.6h0M329.0 513.8h0M314.1 504.6h0M316.1 520.6h0M316.7 523.6h0M316.6 536.2h0M313.9 532.2h0M336.7 524.5h0M335.5 544.2h0M325.8 525.8h0M319.7 503.5h0M317.9 508.5h0M323.0 547.3h0M334.5 522.2h0M314.6 519.0h0M320.9 546.1h0M325.3 547.2h0M320.2 504.2h0M337.8 529.7h0M320.7 540.8h0M325.6 547.7h0M330.0 545.9h0M334.5 535.9h0M334.4 537.4h0M317.6 506.4h0M313.3 527.3h0M314.6 541.4h0M336.0 521.9h0M317.2 521.8h0M331.6 542.1h0M311.8 532.9h0M334.4 532.1h0M338.3 539.8h0M332.3 540.2h0M315.3 546.0h0M333.7 506.4h0M316.7 531.8h0M321.4 545.6h0M320.5 524.6h0M328.1 545.7h0M321.3 543.5h0M335.6 528.5h0M336.5 527.4h0M312.5 512.3h0M333.1 507.4h0M332.9 518.1h0M324.2 540.3h0M326.2 526.9h0M331.7 505.7h0M315.0 532.6h0M317.7 537.0h0M334.3 509.7h0M338.2 524.0h0M334.7 505.9h0M323.7 534.7h0M323.4 509.7h0M326.5 508.6h0M327.1 506.6h0M335.7 511.9h0M332.5 531.9h0M329.7 530.6h0M317.3 524.2h0M339.4 530.7h0M319.3 517.5h0M327.3 525.9h0M325.6 502.1h0M314.6 541.2h0M326.5 515.6h0M326.4 504.4h0M313.8 540.5h0M336.8 511.2h0M336.6 525.5h0M330.3 504.0h0M315.6 533.3h0M315.4 543.8h0M329.9 529.7h0M315.0 517.6h0M323.5 536.3h0M337.6 534.3h0M317.1 523.5h0M322.9 530.6h0M334.5 523.5h0M329.0 541.1h0M314.3 529.8h0M321.8 537.1h0M335.3 521.3h0M316.2 537.6h0M334.8 528.2h0M319.3 534.1h0M337.6 519.2h0M326.6 529.3h0M338.4 521.4h0M328.7 508.7h0M316.8 515.5h0M312.6 528.5h0M338.1 527.4h0M334.2 506.0h0M322.2 503.0h0M316.4 541.5h0M315.6 529.7h0M323.8 533.3h0M324.6 547.9h0M336.9 514.9h0M324.0 520.9h0M335.3 522.6h0M335.3 542.7h0M338.7 520.8h0M318.6 502.6h0M325.6 529.9h0M320.8 543.0h0M336.5 513.9h0M324.7 521.4h0M335.1 515.2h0M319.1 522.0h0M336.4 525.5h0M312.9 518.2h0M330.4 512.8h0M324.2 528.0h0M323.4 510.5h0M329.8 527.3h0M324.9 531.1h0M313.0 511.3h0M336.6 520.1h0M322.0 534.1h0M330.3 544.5h0M316.5 518.0h0M334.5 544.2h0M326.9 538.6h0M314.7 531.7h0M322.2 534.2h0M321.1 510.7h0M320.1 535.6h0M335.2 544.4h0M325.1 505.0h0M335.4 524.7h0M326.1 503.4h0M318.7 536.8h0M326.6 543.0h0M338.4 526.8h0M312.8 542.5h0M316.1 529.0h0M320.2 519.8h0M326.8 515.5h0M316.8 533.0h0M332.3 505.8h0M318.6 515.1h0M330.5 531.0h0M319.8 518.5h0M326.1 543.2h0M337.4 524.3h0M313.3 518.6h0M338.8 522.2h0M324.3 531.7h0M312.4 532.1h0M334.3 507.2h0M325.2 541.8h0M319.9 526.6h0M324.3 518.0h0M334.1 510.2h0M329.4 514.5h0M339.0 528.3h0M332.0 508.5h0M339.3 531.8h0M333.0 516.1h0M336.9 526.5h0M337.3 533.6h0M324.1 546.4h0M325.8 525.3h0M339.2 529.7h0M326.8 539.4h0M311.7 520.6h0M319.5 530.3h0M323.0 530.2h0M341.5 521.1h0M339.4 523.8h0M326.0 503.4h0M321.9 524.0h0M330.5 512.3h0M333.0 531.7h0M320.8 511.9h0M312.0 539.5h0M320.4 536.6h0M339.0 526.8h0M327.0 510.7h0M333.9 540.8h0M324.8 537.6h0M315.5 525.5h0M334.2 526.8h0M322.2 502.8h0M331.4 526.4h0M335.6 507.2h0M335.5 519.6h0M334.8 534.5h0M324.9 546.1h0M325.9 523.7h0M315.2 529.5h0M319.2 522.5h0M317.8 535.7h0M336.1 533.9h0M315.6 504.2h0M330.8 505.8h0M335.3 527.4h0M333.3 540.5h0M328.3 515.5h0M313.1 534.7h0M333.6 531.4h0M328.4 523.2h0M315.8 546.2h0M316.3 524.9h0M327.7 520.0h0M320.7 540.6h0M319.0 535.7h0M320.3 521.0h0M327.0 513.5h0M311.9 522.5h0M336.2 527.4h0M334.2 514.1h0M324.7 505.0h0M324.4 536.9h0M321.8 510.6h0M329.3 543.7h0M333.0 507.1h0M325.7 512.7h0M338.6 521.5h0M326.1 542.8h0M321.1 522.9h0M329.3 532.2h0M322.4 531.2h0M325.3 540.6h0M330.5 534.4h0M324.3 508.9h0M323.4 517.1h0M311.5 537.8h0M328.8 524.3h0M315.3 535.3h0M328.3 547.0h0M340.2 521.0h0M322.7 522.2h0M337.2 523.5h0M336.5 525.9h0M336.2 525.0h0M330.7 521.5h0M306.8 551.4h0M303.9 549.5h0M306.8 548.1h0M306.2 548.1h0M306.0 548.3h0M303.6 550.8h0M305.3 548.1h0M304.6 549.5h0M327.9 548.3h0M330.2 550.0h0M328.9 549.6h0M328.2 549.6h0M341.4 548.7h0M341.1 549.3h0M338.0 549.7h0M339.8 547.9h0M340.1 549.8h0M340.1 547.1h0M341.3 550.5h0M339.0 550.6h0M341.5 547.7h0M156.5 639.0h0M174.8 640.3h0M181.2 638.5h0M172.8 635.7h0M157.3 638.8h0M164.4 635.2h0M173.8 639.2h0M166.6 652.8h0M173.3 634.2h0M173.8 637.8h0M163.1 649.1h0M177.1 644.9h0M175.5 642.7h0M164.8 638.4h0M167.6 649.1h0M165.7 658.4h0M164.0 634.7h0M175.3 643.8h0M168.4 651.2h0M175.1 642.5h0M161.5 651.0h0M171.9 635.2h0M160.5 645.2h0M158.5 647.6h0M167.1 641.7h0M157.9 649.5h0M183.6 640.0h0M162.2 642.5h0M163.1 647.0h0M173.9 640.9h0M164.5 654.7h0M169.2 635.5h0M162.6 637.7h0M159.2 637.5h0M164.9 635.3h0M164.3 656.2h0M162.8 647.2h0M179.8 634.4h0M178.3 636.6h0M173.8 639.5h0M176.0 638.7h0M164.6 643.0h0M174.2 635.5h0M168.0 647.3h0M157.5 640.6h0M172.4 634.6h0M165.2 655.0h0M176.5 643.8h0M180.3 636.1h0M167.7 648.2h0M175.4 639.3h0M166.5 655.1h0M172.7 641.2h0M176.6 643.0h0M174.9 644.5h0M170.6 638.6h0M166.3 644.7h0M176.8 638.1h0M161.5 650.7h0M156.5 645.5h0M165.9 647.4h0M167.1 634.1h0M158.3 639.9h0M180.4 639.0h0M164.0 648.5h0M164.7 642.9h0M166.6 641.6h0M161.8 646.8h0M158.9 639.0h0M170.8 642.5h0M157.7 644.7h0M164.2 635.5h0M164.3 645.5h0M175.3 640.7h0M166.6 657.4h0M173.8 645.6h0M161.9 654.4h0M182.1 640.2h0M179.8 643.7h0M169.4 634.7h0M161.7 655.5h0M182.6 642.3h0M178.5 641.8h0M172.3 639.1h0M170.7 646.7h0M172.1 641.8h0M156.5 638.9h0M179.0 642.8h0M182.9 642.4h0M160.1 638.0h0M164.9 651.0h0M159.4 639.0h0M163.8 648.3h0M162.4 636.2h0M159.6 643.4h0M162.1 645.7h0M164.0 656.4h0M181.1 638.9h0M166.8 656.7h0M166.2 650.4h0M177.5 642.8h0M169.3 636.3h0M164.6 652.3h0M168.0 652.5h0M164.0 636.3h0M174.7 640.7h0M161.7 646.0h0M175.5 645.3h0M168.3 649.6h0M172.8 639.5h0M162.2 643.6h0M162.1 655.5h0M171.8 640.3h0M177.7 637.6h0M173.1 638.5h0M159.1 648.9h0M167.5 634.8h0M163.0 650.9h0M164.0 643.0h0M182.6 637.6h0M159.7 646.3h0M167.6 635.1h0M166.4 656.2h0M168.1 635.6h0M165.8 642.3h0M157.3 637.8h0M178.1 638.6h0M175.4 636.0h0M174.9 639.8h0M166.0 651.8h0M159.9 645.9h0M158.4 636.4h0M174.7 645.1h0M161.8 658.7h0M164.1 648.0h0M169.7 638.8h0M182.4 638.6h0M160.4 636.2h0M158.5 652.2h0M157.4 646.1h0M165.9 652.9h0M182.8 641.7h0M167.3 653.3h0M164.6 656.0h0M169.2 637.8h0M171.6 644.2h0M179.1 643.9h0M174.6 636.9h0M165.7 658.0h0M183.4 638.5h0M169.9 644.5h0M163.3 656.9h0M177.6 640.0h0M178.4 639.2h0M180.2 635.5h0M160.6 648.4h0M162.5 652.4h0M172.6 640.1h0M170.9 641.2h0M171.2 641.3h0M163.3 658.7h0M167.3 640.8h0M166.4 653.1h0M165.3 659.8h0M164.4 635.0h0M173.5 641.4h0M167.6 644.6h0M166.2 638.9h0M163.3 646.4h0M162.1 651.5h0M167.4 649.1h0M167.4 647.2h0M167.9 642.6h0M178.2 645.0h0M159.3 648.9h0M174.8 641.9h0M159.6 649.1h0M172.7 639.7h0M168.6 634.5h0M168.9 643.2h0M182.9 638.2h0M166.7 634.4h0M156.9 639.8h0M162.6 634.1h0M159.9 658.1h0M175.6 637.2h0M177.4 634.2h0M170.4 634.6h0M171.3 638.3h0M182.9 642.3h0M170.7 640.8h0M176.9 643.7h0M159.5 645.8h0M158.4 638.0h0M170.6 645.6h0M175.7 638.0h0M176.0 636.2h0M157.2 639.9h0M174.0 645.6h0M158.5 644.4h0M160.1 649.9h0M170.1 636.4h0M158.2 646.1h0M167.6 638.5h0M180.4 635.1h0M158.8 647.4h0M158.1 652.9h0M163.6 644.0h0M159.5 655.9h0M170.4 636.9h0M167.2 636.0h0M158.8 655.0h0M156.0 644.1h0M166.2 659.4h0M166.8 651.4h0M178.2 643.2h0M156.1 643.7h0M168.4 644.7h0M166.7 649.8h0M182.4 639.9h0M161.5 644.0h0M168.6 639.1h0M163.9 644.3h0M161.5 643.9h0M168.9 643.8h0M158.3 641.3h0M161.2 654.3h0M158.5 643.1h0M175.4 644.0h0M170.6 644.1h0M163.0 655.0h0M175.2 640.4h0M182.9 639.8h0M162.2 642.9h0M173.2 641.9h0M162.0 656.6h0M159.1 650.5h0M167.4 646.2h0M177.7 634.4h0M156.0 639.9h0M158.5 640.8h0M162.3 648.8h0M167.2 642.3h0M166.1 652.6h0M163.3 647.0h0M161.3 642.9h0M167.7 636.3h0M164.7 643.1h0M165.2 647.2h0M164.3 637.5h0M160.8 636.4h0M167.2 654.0h0M158.4 645.4h0M158.3 639.6h0M182.4 642.3h0M162.5 635.6h0M161.3 634.9h0M156.0 637.0h0M171.0 645.9h0M158.4 637.8h0M177.0 640.1h0M165.7 645.4h0M168.1 641.3h0M175.2 639.4h0M165.3 654.7h0M170.8 640.1h0M161.5 645.6h0M159.6 657.9h0M175.4 645.5h0M161.3 651.1h0M161.3 646.0h0M160.2 644.8h0M164.3 649.3h0M157.3 646.9h0M158.5 639.2h0M159.6 646.6h0M178.2 634.7h0M166.7 652.5h0M167.8 638.7h0M167.3 643.5h0M181.7 636.0h0M170.9 640.5h0M182.4 641.9h0M165.0 635.5h0M157.4 637.8h0M164.1 634.7h0M172.9 646.1h0M159.5 646.8h0M175.5 639.2h0M172.6 647.0h0M164.3 646.9h0M161.0 650.7h0M159.2 645.6h0M157.6 648.0h0M158.7 655.4h0M164.4 658.8h0M165.2 637.8h0M174.7 640.3h0M163.5 649.4h0M158.3 640.2h0M162.1 638.1h0M167.6 645.7h0M169.1 643.4h0M156.7 644.0h0M169.9 641.8h0M176.8 635.5h0M168.7 640.6h0M159.0 638.0h0M168.8 634.3h0M178.2 644.8h0M164.9 649.6h0M176.0 645.2h0M177.4 634.6h0M165.8 637.0h0M179.2 638.3h0M181.9 642.9h0M161.2 643.5h0M168.3 650.5h0M169.9 643.0h0M160.5 656.2h0M172.8 640.7h0M159.4 657.4h0M172.1 635.2h0M165.1 658.0h0M158.5 642.0h0M157.2 640.3h0M164.5 647.0h0M158.7 645.1h0M165.6 636.9h0M178.5 634.8h0M161.6 657.2h0M164.6 647.5h0M170.8 644.5h0M165.8 656.0h0M170.2 644.5h0M176.1 638.1h0M169.3 639.2h0M167.1 654.4h0M162.7 654.1h0M163.3 644.5h0M177.8 640.7h0M165.9 654.2h0M161.5 656.5h0M180.1 639.6h0M156.4 644.2h0M171.2 645.7h0M163.9 636.2h0M168.9 637.4h0M168.8 638.4h0M168.4 637.6h0M168.4 649.7h0M174.9 637.4h0M179.7 643.7h0M158.3 645.2h0M176.4 642.1h0M178.9 635.6h0M167.8 647.8h0M166.7 638.8h0M172.5 637.1h0M160.7 644.9h0M189.9 625.1h0M189.3 629.8h0M182.9 633.6h0M181.7 630.8h0M187.5 619.0h0M188.7 619.5h0M182.8 620.2h0M185.1 625.9h0M174.9 633.4h0M177.7 627.9h0M177.1 627.2h0M174.6 624.4h0M172.2 623.2h0M175.6 630.0h0M172.9 621.5h0M189.5 629.3h0M185.2 628.8h0M189.2 627.5h0M172.8 619.2h0M171.8 626.4h0M181.1 632.3h0M171.4 620.1h0M171.9 624.8h0M188.7 631.5h0M170.9 628.5h0M173.6 622.6h0M193.8 636.4h0M193.3 635.9h0M194.2 644.0h0M198.1 647.0h0M193.0 631.6h0M198.3 637.9h0M191.8 640.0h0M205.0 644.2h0M197.8 646.4h0M203.6 647.7h0M196.5 651.4h0M190.1 640.3h0M190.3 637.6h0M189.7 636.4h0M202.0 637.4h0M198.4 650.0h0M204.8 636.4h0M204.5 638.1h0M192.1 650.0h0M192.0 647.9h0M198.3 643.3h0M197.4 636.2h0M202.4 640.5h0M192.7 648.0h0M196.5 642.4h0M203.3 637.2h0M205.5 637.5h0M188.7 637.2h0M194.6 644.1h0M200.4 649.8h0M191.2 640.1h0M196.5 649.3h0M192.5 644.2h0M201.4 638.5h0M192.8 632.9h0M199.3 640.0h0M191.6 638.0h0M193.7 633.7h0M198.7 634.4h0M191.9 638.9h0M191.8 649.6h0M204.9 638.3h0M202.4 644.9h0M198.0 650.9h0M200.1 645.3h0M204.9 641.0h0M201.0 641.3h0M192.6 635.4h0M189.8 632.6h0M193.4 640.7h0M191.5 646.1h0M197.8 647.6h0M202.3 647.0h0M193.7 643.7h0M202.8 636.4h0M194.5 631.2h0M198.8 633.5h0M196.0 635.1h0M201.3 643.9h0M196.7 645.3h0M202.6 635.2h0M197.7 636.9h0M191.4 635.8h0M202.2 651.5h0M195.8 634.8h0M191.2 637.7h0M194.7 650.4h0M197.5 641.8h0M199.3 634.9h0M194.7 640.7h0M189.2 637.7h0M198.3 644.3h0M192.8 632.6h0M198.3 634.4h0M201.2 651.6h0M193.7 647.9h0M203.3 644.8h0M188.6 637.0h0M194.7 640.6h0M198.3 635.1h0M195.2 633.6h0M203.2 636.0h0M197.1 643.7h0M202.4 636.2h0M198.1 638.9h0M197.2 645.7h0M195.9 647.2h0M195.8 634.2h0M191.1 637.5h0M198.1 632.3h0M193.6 634.2h0M197.6 635.4h0M194.4 647.4h0M203.0 639.6h0M198.1 638.3h0M191.5 646.2h0M192.1 635.1h0M199.1 639.6h0M189.0 634.3h0M202.2 639.6h0M202.0 644.6h0M198.8 636.4h0M193.8 645.5h0M195.9 652.8h0M203.0 633.4h0M191.2 641.4h0M193.0 633.8h0M195.7 634.0h0M188.5 633.1h0M200.7 645.2h0M194.2 648.7h0M188.8 640.2h0M190.7 641.6h0M194.3 632.5h0M203.1 648.4h0M198.6 640.2h0M198.0 642.0h0M198.2 638.0h0M202.7 642.4h0M192.3 643.9h0M202.0 642.0h0M193.8 643.0h0M200.4 635.0h0M204.0 640.0h0M195.5 642.4h0M201.7 634.8h0M191.3 641.7h0M190.3 635.4h0M194.6 650.7h0M199.0 637.2h0M199.5 642.2h0M197.2 639.4h0M196.0 649.0h0M195.9 642.9h0M201.7 650.1h0M198.5 642.6h0M189.8 639.3h0M191.4 648.0h0M200.1 634.0h0M198.4 650.2h0M203.3 639.3h0M194.6 642.7h0M195.5 652.4h0M203.3 650.7h0M205.0 638.9h0M192.7 644.2h0M195.2 635.6h0M189.5 639.6h0M202.8 648.7h0M196.2 639.9h0M201.6 635.8h0M200.0 650.6h0M194.5 636.1h0M201.4 644.7h0M195.1 631.1h0M193.8 646.5h0M191.4 641.6h0M201.9 638.7h0M190.3 645.9h0M200.3 644.4h0M204.3 639.2h0M197.2 641.0h0M203.4 638.3h0M192.3 639.1h0M202.8 647.3h0M191.4 649.0h0M205.8 638.4h0M202.2 646.2h0M199.1 636.1h0M194.0 649.1h0M203.4 649.8h0M202.8 651.7h0M193.8 651.3h0M189.6 635.1h0M203.6 643.0h0M205.2 638.3h0M189.2 634.3h0M203.9 648.8h0M195.7 645.4h0M193.1 635.4h0M196.8 641.5h0M196.8 646.8h0M191.3 648.5h0M193.9 639.8h0M204.1 647.3h0M195.6 638.6h0M197.4 649.7h0M191.1 646.4h0M208.0 642.2h0M206.0 636.6h0M206.8 636.7h0M210.5 644.5h0M211.8 648.5h0M210.4 643.6h0M208.7 639.5h0M206.7 639.3h0M209.1 641.8h0M209.6 646.7h0M210.3 644.8h0M208.4 642.1h0M208.8 639.6h0M207.0 644.7h0M208.0 646.6h0M209.7 643.7h0M204.3 632.6h0M209.2 638.1h0M207.0 646.2h0M211.5 650.3h0M214.5 644.2h0M207.3 645.3h0M205.1 640.7h0M205.9 646.9h0M214.4 640.1h0M209.0 646.0h0M206.2 646.4h0M206.7 642.9h0M210.6 644.2h0M214.7 639.7h0M205.6 640.9h0M205.8 649.2h0M211.3 635.6h0M212.8 639.7h0M212.8 637.7h0M207.7 638.7h0M212.8 648.8h0M209.4 643.8h0M206.5 644.9h0M214.5 642.0h0M208.6 644.9h0M178.5 668.9h0M185.2 671.5h0M179.8 665.2h0M185.2 665.3h0M187.8 672.2h0M182.6 672.9h0M186.4 670.7h0M179.1 664.9h0M184.9 671.0h0M188.7 667.8h0M180.6 672.6h0M181.3 672.0h0M178.4 669.4h0M186.0 671.2h0M185.2 664.9h0M187.0 669.7h0M184.2 666.2h0M186.5 671.6h0M179.0 673.3h0M181.3 672.6h0M178.8 667.7h0M177.5 665.5h0M182.7 668.8h0M184.4 669.2h0M179.3 668.2h0M188.2 668.2h0M182.5 673.2h0M181.1 672.5h0M176.5 671.1h0M177.2 666.7h0M188.0 671.9h0M182.5 665.1h0M182.8 673.0h0M183.7 664.2h0M185.5 670.2h0M175.6 668.4h0M185.0 671.7h0M180.1 665.6h0M179.3 666.3h0M183.3 666.7h0M178.7 670.2h0M181.8 664.8h0M180.9 666.8h0M186.7 666.4h0M184.5 670.7h0M181.3 664.5h0M183.0 665.1h0M178.9 673.2h0M188.0 666.7h0M180.3 667.4h0M184.4 667.0h0M182.1 670.5h0M179.4 665.3h0M184.6 670.5h0M187.3 669.9h0M178.3 668.0h0M183.7 672.7h0M184.7 667.4h0M185.4 666.7h0M182.6 670.3h0M186.4 666.5h0M186.1 669.4h0M184.3 665.0h0M182.9 664.9h0M184.3 671.9h0M180.9 668.3h0M184.2 669.6h0M185.1 667.5h0M176.3 670.8h0M178.6 671.0h0M165.2 673.9h0M158.7 670.9h0M161.7 669.7h0M160.8 673.7h0M163.0 671.4h0M159.3 671.4h0M165.0 668.0h0M161.7 669.1h0M164.1 667.6h0M168.8 670.1h0M166.3 674.2h0M162.8 670.0h0M164.8 669.4h0M160.7 674.3h0M165.1 671.0h0M163.1 673.4h0M166.1 669.3h0M161.4 670.3h0M158.6 670.4h0M159.3 672.3h0M161.7 669.6h0M160.4 669.0h0M160.5 674.1h0M163.0 671.4h0M161.5 674.6h0M164.6 668.4h0M160.3 670.4h0M168.0 673.2h0M166.6 671.6h0M160.2 672.2h0M164.4 668.2h0M158.6 671.2h0M168.1 669.6h0M165.0 667.8h0M161.3 672.7h0M166.1 670.5h0M161.2 667.9h0M167.1 672.9h0M160.5 672.3h0M163.6 671.5h0M175.1 658.5h0M177.5 654.8h0M174.2 652.4h0M178.7 662.3h0M171.9 658.8h0M174.6 652.7h0M169.1 650.6h0M180.6 652.0h0M172.8 657.7h0M171.4 658.7h0M176.1 653.3h0M179.5 659.6h0M181.2 659.4h0M177.7 650.5h0M173.2 656.4h0M168.8 651.5h0M182.0 651.7h0M177.5 653.6h0M176.9 655.9h0M299.5 664.6h0M304.1 667.8h0M299.9 668.5h0M297.6 665.2h0M302.6 668.8h0M300.1 666.7h0M300.8 665.8h0M298.7 663.9h0M300.5 668.3h0M297.9 667.7h0M302.0 667.6h0M295.9 666.2h0M300.6 668.8h0M296.1 668.3h0M295.7 666.7h0M297.3 667.7h0M298.7 665.1h0M299.8 668.9h0M303.5 666.7h0M301.9 669.0h0M301.8 667.2h0M302.5 664.2h0M300.3 665.1h0M299.5 664.0h0M297.1 666.6h0M304.7 667.2h0M302.9 665.8h0M295.3 665.3h0M301.4 666.9h0M295.2 664.8h0M301.6 669.1h0M298.9 666.6h0M303.9 667.9h0M301.4 666.8h0M303.0 665.5h0M301.5 664.1h0M304.3 666.3h0M299.0 664.0h0M295.6 668.3h0M301.8 666.9h0M299.8 665.6h0M295.0 665.1h0M302.5 667.6h0M302.6 664.3h0M298.5 666.3h0M294.3 666.9h0M295.8 666.5h0M302.4 664.0h0M298.0 664.1h0M301.6 666.1h0M305.0 666.3h0M300.8 665.5h0M295.6 666.0h0M296.4 666.5h0M296.7 667.8h0M291.4 668.1h0M281.1 664.3h0M289.5 666.4h0M293.6 664.7h0M287.1 669.1h0M281.6 666.4h0M280.7 664.1h0M293.3 666.4h0M290.9 664.0h0M292.2 666.9h0M291.0 665.8h0M280.2 666.8h0M283.4 666.0h0M279.2 664.2h0M276.4 664.9h0M279.7 669.0h0M288.0 667.4h0M277.3 665.9h0M293.1 669.4h0M292.2 666.2h0M287.7 665.5h0M287.6 667.2h0M286.6 664.3h0M280.2 665.7h0M285.3 665.9h0M282.8 667.0h0M286.1 666.1h0M282.2 667.4h0M281.0 677.4h0M281.0 671.2h0M278.8 676.4h0M281.7 679.1h0M281.8 676.0h0M280.9 672.7h0M280.6 673.7h0M278.7 672.2h0M283.7 679.7h0M278.4 675.1h0" stroke="#7cafe1" stroke-width="1.4" stroke-linecap="round" fill="none"/>
<path d="M159.5 509.1h0M162.9 519.9h0M163.6 525.3h0M172.3 524.0h0M177.7 517.9h0M178.4 522.6h0M162.2 530.0h0M166.0 533.0h0M168.0 528.0h0M195.3 541.8h0M193.0 543.0h0M170.0 531.0h0M165.0 536.0h0M189.0 546.0h0M186.0 548.0h0M310.0 490.5h0M312.4 495.8h0M308.0 497.0h0M219.6 675.4h0M221.0 677.5h0M221.7 665.3h0M214.9 668.5h0M196.0 670.0h0M199.0 671.0h0M202.0 669.5h0M209.0 657.0h0M211.5 658.5h0M186.0 678.0h0M188.0 680.0h0M277.0 643.8h0M317.7 655.0h0M297.8 662.0h0M306.0 668.0h0M310.0 670.0h0M315.0 667.0h0M317.0 671.0h0" stroke="#8ea6c6" stroke-width="1.4" stroke-linecap="round" fill="none"/>
<path d="M318.7 493.9h0M321.0 487.6h0M296.0 484.0h0M313.0 486.0h0" stroke="#f9d9bd" stroke-width="1.4" stroke-linecap="round" fill="none"/>
<path d="M191.2 614.9h0M200.7 616.3h0M201.0 618.4h0M201.1 616.7h0M192.9 620.1h0M191.8 616.9h0M199.2 623.3h0M193.7 619.4h0M197.1 620.9h0M202.0 620.6h0M202.6 619.5h0M195.1 614.1h0M193.3 619.6h0M190.2 617.0h0M195.7 614.4h0M192.9 620.2h0M194.8 620.6h0M197.5 616.1h0M196.8 625.0h0M201.6 621.2h0M196.2 622.8h0M195.2 622.3h0M194.0 620.5h0M199.3 620.8h0M197.4 618.4h0M193.6 621.7h0M195.1 619.1h0M194.1 617.3h0M197.7 624.3h0M196.3 621.4h0M198.3 618.6h0M196.2 621.4h0M202.1 621.7h0M198.1 618.0h0M200.2 615.4h0M201.5 619.7h0M195.2 622.1h0M190.3 614.6h0M197.2 616.5h0M196.3 617.3h0M193.9 616.5h0M192.2 615.4h0M193.8 615.1h0M196.6 625.6h0M195.0 619.0h0M193.4 623.5h0M199.0 625.0h0M197.0 618.1h0M192.4 616.6h0M190.0 617.4h0M193.2 623.7h0M196.0 615.7h0M198.7 616.3h0M199.4 615.8h0M201.4 617.5h0M189.9 615.6h0M191.5 615.4h0M194.0 618.5h0M199.6 614.7h0M193.3 615.9h0M202.9 618.6h0M199.0 619.3h0M191.5 617.6h0M193.5 616.8h0M200.2 614.9h0M194.2 622.6h0M197.5 621.6h0M191.3 616.2h0M191.4 614.7h0M197.3 614.9h0M200.9 623.9h0M192.7 615.5h0M196.0 622.8h0M190.3 618.3h0M190.9 614.8h0M196.4 617.4h0M199.2 619.9h0M198.0 617.8h0M195.4 620.4h0M194.7 619.1h0M199.3 624.1h0M193.0 614.7h0M191.8 619.8h0M199.7 622.6h0M192.9 614.5h0M195.6 617.8h0M196.4 623.1h0M199.2 620.0h0M195.0 625.2h0M200.2 620.7h0M199.8 620.4h0M193.2 615.3h0M197.0 624.2h0M196.6 619.6h0M193.4 615.2h0M195.8 619.8h0M197.0 625.7h0M197.8 616.3h0M195.3 618.9h0M191.1 618.6h0M202.8 620.3h0M194.4 620.0h0M198.7 615.0h0M194.1 615.3h0M198.8 614.0h0M200.8 616.1h0M196.3 622.3h0M194.8 615.8h0M195.3 625.1h0M196.5 624.4h0M195.5 616.8h0M201.0 615.1h0M198.6 617.3h0M189.3 615.8h0M201.0 615.7h0M198.2 620.2h0M197.3 624.9h0M196.9 623.5h0M199.1 619.5h0M196.7 625.7h0M201.5 622.8h0M199.1 615.8h0M200.7 622.4h0M189.9 614.6h0M190.0 616.4h0M199.7 623.0h0M198.7 618.2h0M191.8 619.1h0M192.3 622.6h0M200.8 622.7h0M193.3 620.8h0M193.1 620.4h0M196.3 615.6h0M200.9 623.5h0M199.9 614.9h0M200.4 621.2h0M202.2 618.9h0M191.8 619.5h0M192.9 618.4h0M200.0 617.7h0M199.0 620.9h0M201.2 621.6h0M201.0 621.5h0M194.8 616.2h0M199.6 617.3h0M198.3 621.7h0M193.3 616.8h0M198.0 621.4h0M189.6 614.5h0M199.4 620.6h0M196.3 620.2h0M194.9 616.2h0M196.4 618.9h0M197.6 614.8h0M196.4 615.3h0M196.4 623.6h0M198.4 619.4h0M201.3 619.7h0M194.4 618.6h0M194.1 617.1h0M196.1 619.0h0M199.5 619.8h0M190.9 617.0h0M196.7 621.8h0M197.8 622.8h0M193.8 623.0h0M197.1 616.9h0M200.5 623.7h0M197.2 616.7h0M192.9 624.1h0M192.5 619.6h0M196.6 614.0h0M190.1 616.2h0M200.2 623.2h0M189.8 615.7h0M200.3 620.8h0M201.3 622.6h0M199.0 614.3h0M202.4 617.3h0M195.3 620.1h0M196.7 620.6h0M196.2 615.0h0M195.9 616.1h0M194.8 622.4h0M199.6 615.7h0M197.7 616.0h0M197.5 616.8h0M190.1 615.5h0M190.6 614.5h0M199.2 624.7h0M193.2 616.1h0M200.5 615.1h0M197.8 615.5h0M198.1 615.4h0M192.4 619.2h0M196.6 615.2h0M198.3 622.0h0M197.1 618.4h0M200.6 614.6h0M196.5 620.3h0M192.0 618.4h0M197.3 618.4h0M195.2 615.5h0M196.8 625.1h0M199.8 620.9h0M192.7 621.9h0M200.4 616.3h0M191.9 618.7h0M197.3 624.5h0M197.2 617.0h0M199.2 615.6h0M197.0 620.7h0M195.3 620.4h0M191.3 616.3h0M197.1 618.6h0M195.8 624.8h0M195.4 622.7h0M189.3 616.2h0M191.3 618.4h0M192.9 617.5h0M189.5 618.2h0M200.0 620.4h0M201.6 621.2h0M198.0 618.9h0M200.8 619.2h0M190.5 616.5h0M200.2 614.5h0M198.5 619.4h0M198.1 618.8h0M197.2 614.3h0M197.0 617.9h0M197.7 625.5h0M195.3 618.8h0M200.6 624.0h0M191.8 621.8h0M192.9 618.0h0M200.3 618.2h0M201.9 619.6h0M201.2 615.3h0M194.4 614.2h0M195.6 619.4h0M202.8 618.4h0M193.0 615.4h0M196.2 622.6h0M200.8 621.8h0M201.3 619.5h0M194.8 621.5h0M191.3 616.5h0M195.9 614.3h0M190.9 617.5h0M198.7 615.4h0M194.0 621.2h0M200.8 616.1h0M196.7 621.1h0M196.6 621.0h0M194.1 616.7h0M198.3 624.3h0M198.5 621.7h0M202.6 616.8h0M197.0 623.7h0M196.0 623.6h0M191.5 618.5h0M202.9 619.3h0M196.5 621.0h0M201.0 619.3h0M201.7 622.3h0M194.4 621.2h0M192.9 614.4h0M195.6 614.3h0M192.9 623.9h0M191.9 627.8h0M194.5 625.6h0M193.7 626.6h0M192.5 627.4h0M193.3 626.6h0M193.1 627.1h0" stroke="#f8aa4c" stroke-width="1.4" stroke-linecap="round" fill="none"/>
<path d="M323.3 556.3h0M323.6 555.7h0M322.6 556.0h0M325.6 556.6h0M325.3 555.4h0M322.8 556.3h0M323.7 554.9h0M322.0 555.9h0M325.4 556.5h0M324.9 554.3h0M324.9 554.7h0M324.5 556.5h0M323.3 556.1h0M324.7 557.0h0M325.7 556.1h0M324.4 556.9h0M324.7 556.2h0M323.1 554.2h0M324.5 554.6h0M322.4 555.8h0M324.8 554.2h0M323.1 554.2h0M324.1 555.6h0M323.1 556.2h0M205.1 683.8h0M205.7 683.8h0M205.4 685.7h0M205.0 686.2h0M204.7 683.3h0M204.4 683.4h0M205.2 683.9h0M204.7 684.9h0M204.7 683.9h0M204.0 683.8h0M204.2 685.3h0M207.0 684.8h0M207.3 685.6h0M207.0 684.9h0M204.9 686.2h0M207.1 684.1h0M206.4 685.8h0M206.0 683.8h0" stroke="#1d5aa5" stroke-width="1.4" stroke-linecap="round" fill="none"/>
<path d="M312.1 556.5h0M314.4 555.9h0M312.3 557.1h0M312.8 558.8h0M315.2 555.8h0M314.0 555.8h0M312.8 558.3h0M313.1 558.8h0M313.6 556.2h0M312.0 557.5h0M313.3 559.1h0M311.8 557.1h0M313.0 556.7h0M311.8 556.7h0M313.4 555.9h0M312.4 557.4h0M313.3 556.5h0M313.8 556.6h0M314.3 557.8h0M311.3 555.2h0M313.4 557.7h0M313.5 556.0h0M194.3 686.4h0M194.9 686.0h0" stroke="#6b1a5f" stroke-width="1.4" stroke-linecap="round" fill="none"/>
<path d="M348.6 532.8h0M349.6 530.4h0M351.4 531.2h0M350.4 530.7h0M351.2 532.1h0M348.5 530.6h0M349.0 531.6h0M346.9 531.9h0M346.1 531.2h0M349.5 530.0h0M348.6 530.0h0M350.8 530.0h0M349.5 529.6h0M346.3 531.3h0M347.9 532.9h0M345.8 532.2h0M347.8 529.9h0M351.3 531.7h0" stroke="#9c8dc8" stroke-width="1.4" stroke-linecap="round" fill="none"/>
<path d="M351.4 547.3h0M350.8 545.8h0M350.5 548.0h0" stroke="#ef8212" stroke-width="1.4" stroke-linecap="round" fill="none"/>
<path d="M351.0 552.5h0M350.9 552.0h0M350.3 551.8h0M232.1 674.8h0M234.0 680.7h0M234.1 680.4h0M234.1 679.9h0M234.0 681.0h0" stroke="#d5052b" stroke-width="1.4" stroke-linecap="round" fill="none"/>
<circle cx="349.3" cy="532.4" r="5.9" fill="none" stroke="#c8102e" stroke-width="1.1"/>
<circle cx="349.7" cy="546.25" r="4.1" fill="none" stroke="#c8102e" stroke-width="1.1"/>
<circle cx="231.3" cy="661.1" r="4.8" fill="none" stroke="#c8102e" stroke-width="1.1"/>
<text x="369" y="577.2" class="clt">Cluster</text>
<circle cx="373.7" cy="584.0" r="2.0" fill="#d5052b"/>
<text x="381.6" y="586.0" class="cln">1</text>
<circle cx="373.7" cy="590.6" r="2.0" fill="#f27b6c"/>
<text x="381.6" y="592.6" class="cln">2</text>
<circle cx="373.7" cy="597.2" r="2.0" fill="#1d5aa5"/>
<text x="381.6" y="599.2" class="cln">3</text>
<circle cx="373.7" cy="603.8" r="2.0" fill="#7cafe1"/>
<text x="381.6" y="605.8" class="cln">4</text>
<circle cx="373.7" cy="610.4" r="2.0" fill="#6b1a5f"/>
<text x="381.6" y="612.4" class="cln">5</text>
<circle cx="373.7" cy="617.0" r="2.0" fill="#9c8dc8"/>
<text x="381.6" y="619.0" class="cln">6</text>
<circle cx="373.7" cy="623.6" r="2.0" fill="#ef8212"/>
<text x="381.6" y="625.6" class="cln">7</text>
<circle cx="373.7" cy="630.2" r="2.0" fill="#f8aa4c"/>
<text x="381.6" y="632.2" class="cln">8</text>
<rect x="367.3" y="613.3" width="23.3" height="13.9" fill="none" stroke="#d2232a" stroke-width="0.9"/>
<rect x="125.3" y="753.1" width="117.4" height="17.8" fill="#d6e2f3" stroke="#1e1e1e" stroke-width="1.3"/>
<text x="183.8" y="766.1" text-anchor="middle" class="pb2">Peripheral Blood</text>
<circle cx="275.4" cy="762.3" r="5.1" fill="none" stroke="#d2232a" stroke-width="1"/>
<text x="283.5" y="764.6" class="hyb">= Hybrid Cell Populations</text>
<text x="96.4" y="795.7" class="cap" word-spacing="0.35"><tspan class="capb">Figure 2.</tspan> tSNE (500 cells per patient sample) showcasing the diversity of cell</text>
<text x="96.4" y="806.0" class="cap" word-spacing="0.18">population clusters in peripheral blood (PB) specimens. Hybrid populations (clusters 6</text>
<text x="96.4" y="816.1" class="cap">and 7) are circled in red.</text>
</svg></body></html>
